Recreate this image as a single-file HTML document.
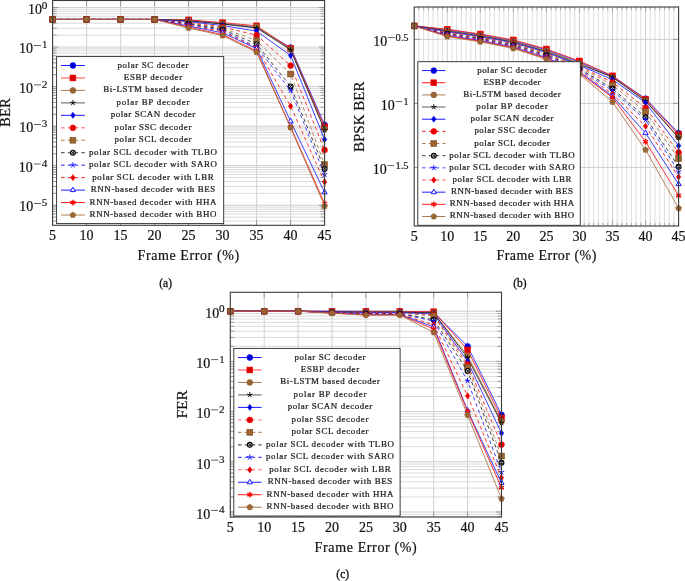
<!DOCTYPE html>
<html><head><meta charset="utf-8"><style>html,body{margin:0;padding:0;background:#fff;width:685px;height:581px;overflow:hidden}svg{display:block;will-change:transform}</style></head>
<body><svg width="685" height="581" viewBox="0 0 685 581">
<style>
text{font-family:"Liberation Serif",serif;fill:#111}
.lg{font-size:7.7px;fill:#222;stroke:#222;stroke-width:0.22px}
.tk{font-size:14px;stroke:#111;stroke-width:0.2px}
.sup{font-size:10px;stroke:#111;stroke-width:0.15px}
.al{font-size:14px;stroke:#111;stroke-width:0.2px}
.cap{font-size:11.5px;stroke:#111;stroke-width:0.3px}
</style>
<rect width="685" height="581" fill="#fff"/>
<clipPath id="cpa"><rect x="52.6" y="0.5" width="272" height="224.8"/></clipPath>
<line x1="86.6" y1="0.5" x2="86.6" y2="225.3" stroke="#cacaca" stroke-width="0.9"/>
<line x1="120.6" y1="0.5" x2="120.6" y2="225.3" stroke="#cacaca" stroke-width="0.9"/>
<line x1="154.6" y1="0.5" x2="154.6" y2="225.3" stroke="#cacaca" stroke-width="0.9"/>
<line x1="188.6" y1="0.5" x2="188.6" y2="225.3" stroke="#cacaca" stroke-width="0.9"/>
<line x1="222.6" y1="0.5" x2="222.6" y2="225.3" stroke="#cacaca" stroke-width="0.9"/>
<line x1="256.6" y1="0.5" x2="256.6" y2="225.3" stroke="#cacaca" stroke-width="0.9"/>
<line x1="290.6" y1="0.5" x2="290.6" y2="225.3" stroke="#cacaca" stroke-width="0.9"/>
<line x1="52.6" y1="220.99" x2="324.6" y2="220.99" stroke="#d6d6d6" stroke-width="0.9"/>
<line x1="52.6" y1="220.99" x2="56.6" y2="220.99" stroke="#8c8c8c" stroke-width="0.8"/>
<line x1="320.6" y1="220.99" x2="324.6" y2="220.99" stroke="#8c8c8c" stroke-width="0.8"/>
<line x1="52.6" y1="217.16" x2="324.6" y2="217.16" stroke="#d6d6d6" stroke-width="0.9"/>
<line x1="52.6" y1="217.16" x2="56.6" y2="217.16" stroke="#8c8c8c" stroke-width="0.8"/>
<line x1="320.6" y1="217.16" x2="324.6" y2="217.16" stroke="#8c8c8c" stroke-width="0.8"/>
<line x1="52.6" y1="214.02" x2="324.6" y2="214.02" stroke="#d6d6d6" stroke-width="0.9"/>
<line x1="52.6" y1="214.02" x2="56.6" y2="214.02" stroke="#8c8c8c" stroke-width="0.8"/>
<line x1="320.6" y1="214.02" x2="324.6" y2="214.02" stroke="#8c8c8c" stroke-width="0.8"/>
<line x1="52.6" y1="211.38" x2="324.6" y2="211.38" stroke="#d6d6d6" stroke-width="0.9"/>
<line x1="52.6" y1="211.38" x2="56.6" y2="211.38" stroke="#8c8c8c" stroke-width="0.8"/>
<line x1="320.6" y1="211.38" x2="324.6" y2="211.38" stroke="#8c8c8c" stroke-width="0.8"/>
<line x1="52.6" y1="209.08" x2="324.6" y2="209.08" stroke="#d6d6d6" stroke-width="0.9"/>
<line x1="52.6" y1="209.08" x2="56.6" y2="209.08" stroke="#8c8c8c" stroke-width="0.8"/>
<line x1="320.6" y1="209.08" x2="324.6" y2="209.08" stroke="#8c8c8c" stroke-width="0.8"/>
<line x1="52.6" y1="207.06" x2="324.6" y2="207.06" stroke="#d6d6d6" stroke-width="0.9"/>
<line x1="52.6" y1="207.06" x2="56.6" y2="207.06" stroke="#8c8c8c" stroke-width="0.8"/>
<line x1="320.6" y1="207.06" x2="324.6" y2="207.06" stroke="#8c8c8c" stroke-width="0.8"/>
<line x1="52.6" y1="205.25" x2="324.6" y2="205.25" stroke="#cacaca" stroke-width="0.9"/>
<line x1="52.6" y1="205.25" x2="58.2" y2="205.25" stroke="#8c8c8c" stroke-width="0.8"/>
<line x1="319" y1="205.25" x2="324.6" y2="205.25" stroke="#8c8c8c" stroke-width="0.8"/>
<line x1="52.6" y1="193.34" x2="324.6" y2="193.34" stroke="#d6d6d6" stroke-width="0.9"/>
<line x1="52.6" y1="193.34" x2="56.6" y2="193.34" stroke="#8c8c8c" stroke-width="0.8"/>
<line x1="320.6" y1="193.34" x2="324.6" y2="193.34" stroke="#8c8c8c" stroke-width="0.8"/>
<line x1="52.6" y1="186.38" x2="324.6" y2="186.38" stroke="#d6d6d6" stroke-width="0.9"/>
<line x1="52.6" y1="186.38" x2="56.6" y2="186.38" stroke="#8c8c8c" stroke-width="0.8"/>
<line x1="320.6" y1="186.38" x2="324.6" y2="186.38" stroke="#8c8c8c" stroke-width="0.8"/>
<line x1="52.6" y1="181.44" x2="324.6" y2="181.44" stroke="#d6d6d6" stroke-width="0.9"/>
<line x1="52.6" y1="181.44" x2="56.6" y2="181.44" stroke="#8c8c8c" stroke-width="0.8"/>
<line x1="320.6" y1="181.44" x2="324.6" y2="181.44" stroke="#8c8c8c" stroke-width="0.8"/>
<line x1="52.6" y1="177.61" x2="324.6" y2="177.61" stroke="#d6d6d6" stroke-width="0.9"/>
<line x1="52.6" y1="177.61" x2="56.6" y2="177.61" stroke="#8c8c8c" stroke-width="0.8"/>
<line x1="320.6" y1="177.61" x2="324.6" y2="177.61" stroke="#8c8c8c" stroke-width="0.8"/>
<line x1="52.6" y1="174.47" x2="324.6" y2="174.47" stroke="#d6d6d6" stroke-width="0.9"/>
<line x1="52.6" y1="174.47" x2="56.6" y2="174.47" stroke="#8c8c8c" stroke-width="0.8"/>
<line x1="320.6" y1="174.47" x2="324.6" y2="174.47" stroke="#8c8c8c" stroke-width="0.8"/>
<line x1="52.6" y1="171.83" x2="324.6" y2="171.83" stroke="#d6d6d6" stroke-width="0.9"/>
<line x1="52.6" y1="171.83" x2="56.6" y2="171.83" stroke="#8c8c8c" stroke-width="0.8"/>
<line x1="320.6" y1="171.83" x2="324.6" y2="171.83" stroke="#8c8c8c" stroke-width="0.8"/>
<line x1="52.6" y1="169.53" x2="324.6" y2="169.53" stroke="#d6d6d6" stroke-width="0.9"/>
<line x1="52.6" y1="169.53" x2="56.6" y2="169.53" stroke="#8c8c8c" stroke-width="0.8"/>
<line x1="320.6" y1="169.53" x2="324.6" y2="169.53" stroke="#8c8c8c" stroke-width="0.8"/>
<line x1="52.6" y1="167.51" x2="324.6" y2="167.51" stroke="#d6d6d6" stroke-width="0.9"/>
<line x1="52.6" y1="167.51" x2="56.6" y2="167.51" stroke="#8c8c8c" stroke-width="0.8"/>
<line x1="320.6" y1="167.51" x2="324.6" y2="167.51" stroke="#8c8c8c" stroke-width="0.8"/>
<line x1="52.6" y1="165.7" x2="324.6" y2="165.7" stroke="#cacaca" stroke-width="0.9"/>
<line x1="52.6" y1="165.7" x2="58.2" y2="165.7" stroke="#8c8c8c" stroke-width="0.8"/>
<line x1="319" y1="165.7" x2="324.6" y2="165.7" stroke="#8c8c8c" stroke-width="0.8"/>
<line x1="52.6" y1="153.79" x2="324.6" y2="153.79" stroke="#d6d6d6" stroke-width="0.9"/>
<line x1="52.6" y1="153.79" x2="56.6" y2="153.79" stroke="#8c8c8c" stroke-width="0.8"/>
<line x1="320.6" y1="153.79" x2="324.6" y2="153.79" stroke="#8c8c8c" stroke-width="0.8"/>
<line x1="52.6" y1="146.83" x2="324.6" y2="146.83" stroke="#d6d6d6" stroke-width="0.9"/>
<line x1="52.6" y1="146.83" x2="56.6" y2="146.83" stroke="#8c8c8c" stroke-width="0.8"/>
<line x1="320.6" y1="146.83" x2="324.6" y2="146.83" stroke="#8c8c8c" stroke-width="0.8"/>
<line x1="52.6" y1="141.89" x2="324.6" y2="141.89" stroke="#d6d6d6" stroke-width="0.9"/>
<line x1="52.6" y1="141.89" x2="56.6" y2="141.89" stroke="#8c8c8c" stroke-width="0.8"/>
<line x1="320.6" y1="141.89" x2="324.6" y2="141.89" stroke="#8c8c8c" stroke-width="0.8"/>
<line x1="52.6" y1="138.06" x2="324.6" y2="138.06" stroke="#d6d6d6" stroke-width="0.9"/>
<line x1="52.6" y1="138.06" x2="56.6" y2="138.06" stroke="#8c8c8c" stroke-width="0.8"/>
<line x1="320.6" y1="138.06" x2="324.6" y2="138.06" stroke="#8c8c8c" stroke-width="0.8"/>
<line x1="52.6" y1="134.92" x2="324.6" y2="134.92" stroke="#d6d6d6" stroke-width="0.9"/>
<line x1="52.6" y1="134.92" x2="56.6" y2="134.92" stroke="#8c8c8c" stroke-width="0.8"/>
<line x1="320.6" y1="134.92" x2="324.6" y2="134.92" stroke="#8c8c8c" stroke-width="0.8"/>
<line x1="52.6" y1="132.28" x2="324.6" y2="132.28" stroke="#d6d6d6" stroke-width="0.9"/>
<line x1="52.6" y1="132.28" x2="56.6" y2="132.28" stroke="#8c8c8c" stroke-width="0.8"/>
<line x1="320.6" y1="132.28" x2="324.6" y2="132.28" stroke="#8c8c8c" stroke-width="0.8"/>
<line x1="52.6" y1="129.98" x2="324.6" y2="129.98" stroke="#d6d6d6" stroke-width="0.9"/>
<line x1="52.6" y1="129.98" x2="56.6" y2="129.98" stroke="#8c8c8c" stroke-width="0.8"/>
<line x1="320.6" y1="129.98" x2="324.6" y2="129.98" stroke="#8c8c8c" stroke-width="0.8"/>
<line x1="52.6" y1="127.96" x2="324.6" y2="127.96" stroke="#d6d6d6" stroke-width="0.9"/>
<line x1="52.6" y1="127.96" x2="56.6" y2="127.96" stroke="#8c8c8c" stroke-width="0.8"/>
<line x1="320.6" y1="127.96" x2="324.6" y2="127.96" stroke="#8c8c8c" stroke-width="0.8"/>
<line x1="52.6" y1="126.15" x2="324.6" y2="126.15" stroke="#cacaca" stroke-width="0.9"/>
<line x1="52.6" y1="126.15" x2="58.2" y2="126.15" stroke="#8c8c8c" stroke-width="0.8"/>
<line x1="319" y1="126.15" x2="324.6" y2="126.15" stroke="#8c8c8c" stroke-width="0.8"/>
<line x1="52.6" y1="114.24" x2="324.6" y2="114.24" stroke="#d6d6d6" stroke-width="0.9"/>
<line x1="52.6" y1="114.24" x2="56.6" y2="114.24" stroke="#8c8c8c" stroke-width="0.8"/>
<line x1="320.6" y1="114.24" x2="324.6" y2="114.24" stroke="#8c8c8c" stroke-width="0.8"/>
<line x1="52.6" y1="107.28" x2="324.6" y2="107.28" stroke="#d6d6d6" stroke-width="0.9"/>
<line x1="52.6" y1="107.28" x2="56.6" y2="107.28" stroke="#8c8c8c" stroke-width="0.8"/>
<line x1="320.6" y1="107.28" x2="324.6" y2="107.28" stroke="#8c8c8c" stroke-width="0.8"/>
<line x1="52.6" y1="102.34" x2="324.6" y2="102.34" stroke="#d6d6d6" stroke-width="0.9"/>
<line x1="52.6" y1="102.34" x2="56.6" y2="102.34" stroke="#8c8c8c" stroke-width="0.8"/>
<line x1="320.6" y1="102.34" x2="324.6" y2="102.34" stroke="#8c8c8c" stroke-width="0.8"/>
<line x1="52.6" y1="98.51" x2="324.6" y2="98.51" stroke="#d6d6d6" stroke-width="0.9"/>
<line x1="52.6" y1="98.51" x2="56.6" y2="98.51" stroke="#8c8c8c" stroke-width="0.8"/>
<line x1="320.6" y1="98.51" x2="324.6" y2="98.51" stroke="#8c8c8c" stroke-width="0.8"/>
<line x1="52.6" y1="95.37" x2="324.6" y2="95.37" stroke="#d6d6d6" stroke-width="0.9"/>
<line x1="52.6" y1="95.37" x2="56.6" y2="95.37" stroke="#8c8c8c" stroke-width="0.8"/>
<line x1="320.6" y1="95.37" x2="324.6" y2="95.37" stroke="#8c8c8c" stroke-width="0.8"/>
<line x1="52.6" y1="92.73" x2="324.6" y2="92.73" stroke="#d6d6d6" stroke-width="0.9"/>
<line x1="52.6" y1="92.73" x2="56.6" y2="92.73" stroke="#8c8c8c" stroke-width="0.8"/>
<line x1="320.6" y1="92.73" x2="324.6" y2="92.73" stroke="#8c8c8c" stroke-width="0.8"/>
<line x1="52.6" y1="90.43" x2="324.6" y2="90.43" stroke="#d6d6d6" stroke-width="0.9"/>
<line x1="52.6" y1="90.43" x2="56.6" y2="90.43" stroke="#8c8c8c" stroke-width="0.8"/>
<line x1="320.6" y1="90.43" x2="324.6" y2="90.43" stroke="#8c8c8c" stroke-width="0.8"/>
<line x1="52.6" y1="88.41" x2="324.6" y2="88.41" stroke="#d6d6d6" stroke-width="0.9"/>
<line x1="52.6" y1="88.41" x2="56.6" y2="88.41" stroke="#8c8c8c" stroke-width="0.8"/>
<line x1="320.6" y1="88.41" x2="324.6" y2="88.41" stroke="#8c8c8c" stroke-width="0.8"/>
<line x1="52.6" y1="86.6" x2="324.6" y2="86.6" stroke="#cacaca" stroke-width="0.9"/>
<line x1="52.6" y1="86.6" x2="58.2" y2="86.6" stroke="#8c8c8c" stroke-width="0.8"/>
<line x1="319" y1="86.6" x2="324.6" y2="86.6" stroke="#8c8c8c" stroke-width="0.8"/>
<line x1="52.6" y1="74.69" x2="324.6" y2="74.69" stroke="#d6d6d6" stroke-width="0.9"/>
<line x1="52.6" y1="74.69" x2="56.6" y2="74.69" stroke="#8c8c8c" stroke-width="0.8"/>
<line x1="320.6" y1="74.69" x2="324.6" y2="74.69" stroke="#8c8c8c" stroke-width="0.8"/>
<line x1="52.6" y1="67.73" x2="324.6" y2="67.73" stroke="#d6d6d6" stroke-width="0.9"/>
<line x1="52.6" y1="67.73" x2="56.6" y2="67.73" stroke="#8c8c8c" stroke-width="0.8"/>
<line x1="320.6" y1="67.73" x2="324.6" y2="67.73" stroke="#8c8c8c" stroke-width="0.8"/>
<line x1="52.6" y1="62.79" x2="324.6" y2="62.79" stroke="#d6d6d6" stroke-width="0.9"/>
<line x1="52.6" y1="62.79" x2="56.6" y2="62.79" stroke="#8c8c8c" stroke-width="0.8"/>
<line x1="320.6" y1="62.79" x2="324.6" y2="62.79" stroke="#8c8c8c" stroke-width="0.8"/>
<line x1="52.6" y1="58.96" x2="324.6" y2="58.96" stroke="#d6d6d6" stroke-width="0.9"/>
<line x1="52.6" y1="58.96" x2="56.6" y2="58.96" stroke="#8c8c8c" stroke-width="0.8"/>
<line x1="320.6" y1="58.96" x2="324.6" y2="58.96" stroke="#8c8c8c" stroke-width="0.8"/>
<line x1="52.6" y1="55.82" x2="324.6" y2="55.82" stroke="#d6d6d6" stroke-width="0.9"/>
<line x1="52.6" y1="55.82" x2="56.6" y2="55.82" stroke="#8c8c8c" stroke-width="0.8"/>
<line x1="320.6" y1="55.82" x2="324.6" y2="55.82" stroke="#8c8c8c" stroke-width="0.8"/>
<line x1="52.6" y1="53.18" x2="324.6" y2="53.18" stroke="#d6d6d6" stroke-width="0.9"/>
<line x1="52.6" y1="53.18" x2="56.6" y2="53.18" stroke="#8c8c8c" stroke-width="0.8"/>
<line x1="320.6" y1="53.18" x2="324.6" y2="53.18" stroke="#8c8c8c" stroke-width="0.8"/>
<line x1="52.6" y1="50.88" x2="324.6" y2="50.88" stroke="#d6d6d6" stroke-width="0.9"/>
<line x1="52.6" y1="50.88" x2="56.6" y2="50.88" stroke="#8c8c8c" stroke-width="0.8"/>
<line x1="320.6" y1="50.88" x2="324.6" y2="50.88" stroke="#8c8c8c" stroke-width="0.8"/>
<line x1="52.6" y1="48.86" x2="324.6" y2="48.86" stroke="#d6d6d6" stroke-width="0.9"/>
<line x1="52.6" y1="48.86" x2="56.6" y2="48.86" stroke="#8c8c8c" stroke-width="0.8"/>
<line x1="320.6" y1="48.86" x2="324.6" y2="48.86" stroke="#8c8c8c" stroke-width="0.8"/>
<line x1="52.6" y1="47.05" x2="324.6" y2="47.05" stroke="#cacaca" stroke-width="0.9"/>
<line x1="52.6" y1="47.05" x2="58.2" y2="47.05" stroke="#8c8c8c" stroke-width="0.8"/>
<line x1="319" y1="47.05" x2="324.6" y2="47.05" stroke="#8c8c8c" stroke-width="0.8"/>
<line x1="52.6" y1="35.14" x2="324.6" y2="35.14" stroke="#d6d6d6" stroke-width="0.9"/>
<line x1="52.6" y1="35.14" x2="56.6" y2="35.14" stroke="#8c8c8c" stroke-width="0.8"/>
<line x1="320.6" y1="35.14" x2="324.6" y2="35.14" stroke="#8c8c8c" stroke-width="0.8"/>
<line x1="52.6" y1="28.18" x2="324.6" y2="28.18" stroke="#d6d6d6" stroke-width="0.9"/>
<line x1="52.6" y1="28.18" x2="56.6" y2="28.18" stroke="#8c8c8c" stroke-width="0.8"/>
<line x1="320.6" y1="28.18" x2="324.6" y2="28.18" stroke="#8c8c8c" stroke-width="0.8"/>
<line x1="52.6" y1="23.24" x2="324.6" y2="23.24" stroke="#d6d6d6" stroke-width="0.9"/>
<line x1="52.6" y1="23.24" x2="56.6" y2="23.24" stroke="#8c8c8c" stroke-width="0.8"/>
<line x1="320.6" y1="23.24" x2="324.6" y2="23.24" stroke="#8c8c8c" stroke-width="0.8"/>
<line x1="52.6" y1="19.41" x2="324.6" y2="19.41" stroke="#d6d6d6" stroke-width="0.9"/>
<line x1="52.6" y1="19.41" x2="56.6" y2="19.41" stroke="#8c8c8c" stroke-width="0.8"/>
<line x1="320.6" y1="19.41" x2="324.6" y2="19.41" stroke="#8c8c8c" stroke-width="0.8"/>
<line x1="52.6" y1="16.27" x2="324.6" y2="16.27" stroke="#d6d6d6" stroke-width="0.9"/>
<line x1="52.6" y1="16.27" x2="56.6" y2="16.27" stroke="#8c8c8c" stroke-width="0.8"/>
<line x1="320.6" y1="16.27" x2="324.6" y2="16.27" stroke="#8c8c8c" stroke-width="0.8"/>
<line x1="52.6" y1="13.63" x2="324.6" y2="13.63" stroke="#d6d6d6" stroke-width="0.9"/>
<line x1="52.6" y1="13.63" x2="56.6" y2="13.63" stroke="#8c8c8c" stroke-width="0.8"/>
<line x1="320.6" y1="13.63" x2="324.6" y2="13.63" stroke="#8c8c8c" stroke-width="0.8"/>
<line x1="52.6" y1="11.33" x2="324.6" y2="11.33" stroke="#d6d6d6" stroke-width="0.9"/>
<line x1="52.6" y1="11.33" x2="56.6" y2="11.33" stroke="#8c8c8c" stroke-width="0.8"/>
<line x1="320.6" y1="11.33" x2="324.6" y2="11.33" stroke="#8c8c8c" stroke-width="0.8"/>
<line x1="52.6" y1="9.31" x2="324.6" y2="9.31" stroke="#d6d6d6" stroke-width="0.9"/>
<line x1="52.6" y1="9.31" x2="56.6" y2="9.31" stroke="#8c8c8c" stroke-width="0.8"/>
<line x1="320.6" y1="9.31" x2="324.6" y2="9.31" stroke="#8c8c8c" stroke-width="0.8"/>
<line x1="52.6" y1="7.5" x2="324.6" y2="7.5" stroke="#cacaca" stroke-width="0.9"/>
<line x1="52.6" y1="7.5" x2="58.2" y2="7.5" stroke="#8c8c8c" stroke-width="0.8"/>
<line x1="319" y1="7.5" x2="324.6" y2="7.5" stroke="#8c8c8c" stroke-width="0.8"/>
<line x1="86.6" y1="225.3" x2="86.6" y2="219.7" stroke="#8c8c8c" stroke-width="0.8"/>
<line x1="86.6" y1="0.5" x2="86.6" y2="6.1" stroke="#8c8c8c" stroke-width="0.8"/>
<line x1="120.6" y1="225.3" x2="120.6" y2="219.7" stroke="#8c8c8c" stroke-width="0.8"/>
<line x1="120.6" y1="0.5" x2="120.6" y2="6.1" stroke="#8c8c8c" stroke-width="0.8"/>
<line x1="154.6" y1="225.3" x2="154.6" y2="219.7" stroke="#8c8c8c" stroke-width="0.8"/>
<line x1="154.6" y1="0.5" x2="154.6" y2="6.1" stroke="#8c8c8c" stroke-width="0.8"/>
<line x1="188.6" y1="225.3" x2="188.6" y2="219.7" stroke="#8c8c8c" stroke-width="0.8"/>
<line x1="188.6" y1="0.5" x2="188.6" y2="6.1" stroke="#8c8c8c" stroke-width="0.8"/>
<line x1="222.6" y1="225.3" x2="222.6" y2="219.7" stroke="#8c8c8c" stroke-width="0.8"/>
<line x1="222.6" y1="0.5" x2="222.6" y2="6.1" stroke="#8c8c8c" stroke-width="0.8"/>
<line x1="256.6" y1="225.3" x2="256.6" y2="219.7" stroke="#8c8c8c" stroke-width="0.8"/>
<line x1="256.6" y1="0.5" x2="256.6" y2="6.1" stroke="#8c8c8c" stroke-width="0.8"/>
<line x1="290.6" y1="225.3" x2="290.6" y2="219.7" stroke="#8c8c8c" stroke-width="0.8"/>
<line x1="290.6" y1="0.5" x2="290.6" y2="6.1" stroke="#8c8c8c" stroke-width="0.8"/>
<polyline clip-path="url(#cpa)" points="52.6,19.41 86.6,19.41 120.6,19.41 154.6,19.41 188.6,20.11 222.6,23.45 256.6,27.62 290.6,47.57 324.6,124.83" fill="none" stroke="#2020ff" stroke-width="0.85"/>
<circle cx="52.6" cy="19.41" r="2.9" fill="#0000d8" stroke="#0000ff" stroke-width="0.6"/><circle cx="86.6" cy="19.41" r="2.9" fill="#0000d8" stroke="#0000ff" stroke-width="0.6"/><circle cx="120.6" cy="19.41" r="2.9" fill="#0000d8" stroke="#0000ff" stroke-width="0.6"/><circle cx="154.6" cy="19.41" r="2.9" fill="#0000d8" stroke="#0000ff" stroke-width="0.6"/><circle cx="188.6" cy="20.11" r="2.9" fill="#0000d8" stroke="#0000ff" stroke-width="0.6"/><circle cx="222.6" cy="23.45" r="2.9" fill="#0000d8" stroke="#0000ff" stroke-width="0.6"/><circle cx="256.6" cy="27.62" r="2.9" fill="#0000d8" stroke="#0000ff" stroke-width="0.6"/><circle cx="290.6" cy="47.57" r="2.9" fill="#0000d8" stroke="#0000ff" stroke-width="0.6"/><circle cx="324.6" cy="124.83" r="2.9" fill="#0000d8" stroke="#0000ff" stroke-width="0.6"/>
<polyline clip-path="url(#cpa)" points="52.6,19.41 86.6,19.41 120.6,19.41 154.6,19.41 188.6,19.86 222.6,22.69 256.6,25.78 290.6,48.48 324.6,126.85" fill="none" stroke="#ff1010" stroke-width="0.85"/>
<rect x="49.7" y="16.51" width="5.8" height="5.8" fill="#d80000" stroke="#ff0000" stroke-width="0.6"/><rect x="83.7" y="16.51" width="5.8" height="5.8" fill="#d80000" stroke="#ff0000" stroke-width="0.6"/><rect x="117.7" y="16.51" width="5.8" height="5.8" fill="#d80000" stroke="#ff0000" stroke-width="0.6"/><rect x="151.7" y="16.51" width="5.8" height="5.8" fill="#d80000" stroke="#ff0000" stroke-width="0.6"/><rect x="185.7" y="16.96" width="5.8" height="5.8" fill="#d80000" stroke="#ff0000" stroke-width="0.6"/><rect x="219.7" y="19.79" width="5.8" height="5.8" fill="#d80000" stroke="#ff0000" stroke-width="0.6"/><rect x="253.7" y="22.88" width="5.8" height="5.8" fill="#d80000" stroke="#ff0000" stroke-width="0.6"/><rect x="287.7" y="45.58" width="5.8" height="5.8" fill="#d80000" stroke="#ff0000" stroke-width="0.6"/><rect x="321.7" y="123.95" width="5.8" height="5.8" fill="#d80000" stroke="#ff0000" stroke-width="0.6"/>
<polyline clip-path="url(#cpa)" points="52.6,19.41 86.6,19.41 120.6,19.41 154.6,19.41 188.6,20.47 222.6,23.67 256.6,26.54 290.6,49.25 324.6,128.94" fill="none" stroke="#a87040" stroke-width="0.85"/>
<circle cx="52.6" cy="19.41" r="2.9" fill="#9a6633" stroke="#8a5a2a" stroke-width="0.6"/><circle cx="86.6" cy="19.41" r="2.9" fill="#9a6633" stroke="#8a5a2a" stroke-width="0.6"/><circle cx="120.6" cy="19.41" r="2.9" fill="#9a6633" stroke="#8a5a2a" stroke-width="0.6"/><circle cx="154.6" cy="19.41" r="2.9" fill="#9a6633" stroke="#8a5a2a" stroke-width="0.6"/><circle cx="188.6" cy="20.47" r="2.9" fill="#9a6633" stroke="#8a5a2a" stroke-width="0.6"/><circle cx="222.6" cy="23.67" r="2.9" fill="#9a6633" stroke="#8a5a2a" stroke-width="0.6"/><circle cx="256.6" cy="26.54" r="2.9" fill="#9a6633" stroke="#8a5a2a" stroke-width="0.6"/><circle cx="290.6" cy="49.25" r="2.9" fill="#9a6633" stroke="#8a5a2a" stroke-width="0.6"/><circle cx="324.6" cy="128.94" r="2.9" fill="#9a6633" stroke="#8a5a2a" stroke-width="0.6"/>
<polyline clip-path="url(#cpa)" points="52.6,19.41 86.6,19.41 120.6,19.41 154.6,19.41 188.6,20.84 222.6,24.12 256.6,27.9 290.6,49.84 324.6,129.98" fill="none" stroke="#202020" stroke-width="0.85"/>
<path d="M52.6 19.41L52.6 16.51M52.6 19.41L49.84 18.51M52.6 19.41L50.9 21.75M52.6 19.41L54.3 21.75M52.6 19.41L55.36 18.51" stroke="#000" stroke-width="0.9" fill="none"/><path d="M86.6 19.41L86.6 16.51M86.6 19.41L83.84 18.51M86.6 19.41L84.9 21.75M86.6 19.41L88.3 21.75M86.6 19.41L89.36 18.51" stroke="#000" stroke-width="0.9" fill="none"/><path d="M120.6 19.41L120.6 16.51M120.6 19.41L117.84 18.51M120.6 19.41L118.9 21.75M120.6 19.41L122.3 21.75M120.6 19.41L123.36 18.51" stroke="#000" stroke-width="0.9" fill="none"/><path d="M154.6 19.41L154.6 16.51M154.6 19.41L151.84 18.51M154.6 19.41L152.9 21.75M154.6 19.41L156.3 21.75M154.6 19.41L157.36 18.51" stroke="#000" stroke-width="0.9" fill="none"/><path d="M188.6 20.84L188.6 17.94M188.6 20.84L185.84 19.94M188.6 20.84L186.9 23.18M188.6 20.84L190.3 23.18M188.6 20.84L191.36 19.94" stroke="#000" stroke-width="0.9" fill="none"/><path d="M222.6 24.12L222.6 21.22M222.6 24.12L219.84 23.22M222.6 24.12L220.9 26.47M222.6 24.12L224.3 26.47M222.6 24.12L225.36 23.22" stroke="#000" stroke-width="0.9" fill="none"/><path d="M256.6 27.9L256.6 25M256.6 27.9L253.84 27M256.6 27.9L254.9 30.24M256.6 27.9L258.3 30.24M256.6 27.9L259.36 27" stroke="#000" stroke-width="0.9" fill="none"/><path d="M290.6 49.84L290.6 46.94M290.6 49.84L287.84 48.95M290.6 49.84L288.9 52.19M290.6 49.84L292.3 52.19M290.6 49.84L293.36 48.95" stroke="#000" stroke-width="0.9" fill="none"/><path d="M324.6 129.98L324.6 127.08M324.6 129.98L321.84 129.09M324.6 129.98L322.9 132.33M324.6 129.98L326.3 132.33M324.6 129.98L327.36 129.09" stroke="#000" stroke-width="0.9" fill="none"/>
<polyline clip-path="url(#cpa)" points="52.6,19.41 86.6,19.41 120.6,19.41 154.6,19.41 188.6,21.6 222.6,25.53 256.6,31.11 290.6,55.4 324.6,139.49" fill="none" stroke="#2020ff" stroke-width="0.85"/>
<path d="M52.6 16.31L54.9 19.41L52.6 22.51L50.3 19.41Z" fill="#0000d8" stroke="#0000ff" stroke-width="0.5"/><path d="M86.6 16.31L88.9 19.41L86.6 22.51L84.3 19.41Z" fill="#0000d8" stroke="#0000ff" stroke-width="0.5"/><path d="M120.6 16.31L122.9 19.41L120.6 22.51L118.3 19.41Z" fill="#0000d8" stroke="#0000ff" stroke-width="0.5"/><path d="M154.6 16.31L156.9 19.41L154.6 22.51L152.3 19.41Z" fill="#0000d8" stroke="#0000ff" stroke-width="0.5"/><path d="M188.6 18.5L190.9 21.6L188.6 24.7L186.3 21.6Z" fill="#0000d8" stroke="#0000ff" stroke-width="0.5"/><path d="M222.6 22.43L224.9 25.53L222.6 28.63L220.3 25.53Z" fill="#0000d8" stroke="#0000ff" stroke-width="0.5"/><path d="M256.6 28.01L258.9 31.11L256.6 34.21L254.3 31.11Z" fill="#0000d8" stroke="#0000ff" stroke-width="0.5"/><path d="M290.6 52.3L292.9 55.4L290.6 58.5L288.3 55.4Z" fill="#0000d8" stroke="#0000ff" stroke-width="0.5"/><path d="M324.6 136.39L326.9 139.49L324.6 142.59L322.3 139.49Z" fill="#0000d8" stroke="#0000ff" stroke-width="0.5"/>
<polyline clip-path="url(#cpa)" points="52.6,19.41 86.6,19.41 120.6,19.41 154.6,19.41 188.6,22.4 222.6,27.07 256.6,35.14 290.6,65.58 324.6,149.96" fill="none" stroke="#ff1010" stroke-width="0.85" stroke-dasharray="3.5 3.1"/>
<circle cx="52.6" cy="19.41" r="2.9" fill="#e00000" stroke="#ff0000" stroke-width="0.6"/><circle cx="86.6" cy="19.41" r="2.9" fill="#e00000" stroke="#ff0000" stroke-width="0.6"/><circle cx="120.6" cy="19.41" r="2.9" fill="#e00000" stroke="#ff0000" stroke-width="0.6"/><circle cx="154.6" cy="19.41" r="2.9" fill="#e00000" stroke="#ff0000" stroke-width="0.6"/><circle cx="188.6" cy="22.4" r="2.9" fill="#e00000" stroke="#ff0000" stroke-width="0.6"/><circle cx="222.6" cy="27.07" r="2.9" fill="#e00000" stroke="#ff0000" stroke-width="0.6"/><circle cx="256.6" cy="35.14" r="2.9" fill="#e00000" stroke="#ff0000" stroke-width="0.6"/><circle cx="290.6" cy="65.58" r="2.9" fill="#e00000" stroke="#ff0000" stroke-width="0.6"/><circle cx="324.6" cy="149.96" r="2.9" fill="#e00000" stroke="#ff0000" stroke-width="0.6"/>
<polyline clip-path="url(#cpa)" points="52.6,19.41 86.6,19.41 120.6,19.41 154.6,19.41 188.6,23.03 222.6,28.18 256.6,40.55 290.6,74.02 324.6,164.54" fill="none" stroke="#a87040" stroke-width="0.85" stroke-dasharray="3.5 3.1"/>
<rect x="49.7" y="16.51" width="5.8" height="5.8" fill="#9a6633" stroke="#7a4a1a" stroke-width="0.6"/><rect x="83.7" y="16.51" width="5.8" height="5.8" fill="#9a6633" stroke="#7a4a1a" stroke-width="0.6"/><rect x="117.7" y="16.51" width="5.8" height="5.8" fill="#9a6633" stroke="#7a4a1a" stroke-width="0.6"/><rect x="151.7" y="16.51" width="5.8" height="5.8" fill="#9a6633" stroke="#7a4a1a" stroke-width="0.6"/><rect x="185.7" y="20.13" width="5.8" height="5.8" fill="#9a6633" stroke="#7a4a1a" stroke-width="0.6"/><rect x="219.7" y="25.28" width="5.8" height="5.8" fill="#9a6633" stroke="#7a4a1a" stroke-width="0.6"/><rect x="253.7" y="37.65" width="5.8" height="5.8" fill="#9a6633" stroke="#7a4a1a" stroke-width="0.6"/><rect x="287.7" y="71.12" width="5.8" height="5.8" fill="#9a6633" stroke="#7a4a1a" stroke-width="0.6"/><rect x="321.7" y="161.64" width="5.8" height="5.8" fill="#9a6633" stroke="#7a4a1a" stroke-width="0.6"/>
<polyline clip-path="url(#cpa)" points="52.6,19.41 86.6,19.41 120.6,19.41 154.6,19.41 188.6,23.67 222.6,29.36 256.6,44.21 290.6,86.43 324.6,168.9" fill="none" stroke="#202020" stroke-width="0.85" stroke-dasharray="3.5 3.1"/>
<circle cx="52.6" cy="19.41" r="2.4" fill="#c8c8c8" stroke="#000" stroke-width="1.1"/><path d="M50.8 17.61L54.4 21.2M50.8 21.2L54.4 17.61" stroke="#000" stroke-width="0.9"/><circle cx="86.6" cy="19.41" r="2.4" fill="#c8c8c8" stroke="#000" stroke-width="1.1"/><path d="M84.8 17.61L88.4 21.2M84.8 21.2L88.4 17.61" stroke="#000" stroke-width="0.9"/><circle cx="120.6" cy="19.41" r="2.4" fill="#c8c8c8" stroke="#000" stroke-width="1.1"/><path d="M118.8 17.61L122.4 21.2M118.8 21.2L122.4 17.61" stroke="#000" stroke-width="0.9"/><circle cx="154.6" cy="19.41" r="2.4" fill="#c8c8c8" stroke="#000" stroke-width="1.1"/><path d="M152.8 17.61L156.4 21.2M152.8 21.2L156.4 17.61" stroke="#000" stroke-width="0.9"/><circle cx="188.6" cy="23.67" r="2.4" fill="#c8c8c8" stroke="#000" stroke-width="1.1"/><path d="M186.8 21.88L190.4 25.47M186.8 25.47L190.4 21.88" stroke="#000" stroke-width="0.9"/><circle cx="222.6" cy="29.36" r="2.4" fill="#c8c8c8" stroke="#000" stroke-width="1.1"/><path d="M220.8 27.57L224.4 31.16M220.8 31.16L224.4 27.57" stroke="#000" stroke-width="0.9"/><circle cx="256.6" cy="44.21" r="2.4" fill="#c8c8c8" stroke="#000" stroke-width="1.1"/><path d="M254.8 42.41L258.4 46.01M254.8 46.01L258.4 42.41" stroke="#000" stroke-width="0.9"/><circle cx="290.6" cy="86.43" r="2.4" fill="#c8c8c8" stroke="#000" stroke-width="1.1"/><path d="M288.8 84.63L292.4 88.23M288.8 88.23L292.4 84.63" stroke="#000" stroke-width="0.9"/><circle cx="324.6" cy="168.9" r="2.4" fill="#c8c8c8" stroke="#000" stroke-width="1.1"/><path d="M322.8 167.1L326.4 170.7M322.8 170.7L326.4 167.1" stroke="#000" stroke-width="0.9"/>
<polyline clip-path="url(#cpa)" points="52.6,19.41 86.6,19.41 120.6,19.41 154.6,19.41 188.6,24.35 222.6,30.51 256.6,47.05 290.6,90.43 324.6,174.47" fill="none" stroke="#2020ff" stroke-width="0.85" stroke-dasharray="3.5 3.1"/>
<path d="M52.6 19.41L52.6 16.51M52.6 19.41L49.84 18.51M52.6 19.41L50.9 21.75M52.6 19.41L54.3 21.75M52.6 19.41L55.36 18.51" stroke="#0000ff" stroke-width="0.9" fill="none"/><path d="M86.6 19.41L86.6 16.51M86.6 19.41L83.84 18.51M86.6 19.41L84.9 21.75M86.6 19.41L88.3 21.75M86.6 19.41L89.36 18.51" stroke="#0000ff" stroke-width="0.9" fill="none"/><path d="M120.6 19.41L120.6 16.51M120.6 19.41L117.84 18.51M120.6 19.41L118.9 21.75M120.6 19.41L122.3 21.75M120.6 19.41L123.36 18.51" stroke="#0000ff" stroke-width="0.9" fill="none"/><path d="M154.6 19.41L154.6 16.51M154.6 19.41L151.84 18.51M154.6 19.41L152.9 21.75M154.6 19.41L156.3 21.75M154.6 19.41L157.36 18.51" stroke="#0000ff" stroke-width="0.9" fill="none"/><path d="M188.6 24.35L188.6 21.45M188.6 24.35L185.84 23.45M188.6 24.35L186.9 26.69M188.6 24.35L190.3 26.69M188.6 24.35L191.36 23.45" stroke="#0000ff" stroke-width="0.9" fill="none"/><path d="M222.6 30.51L222.6 27.61M222.6 30.51L219.84 29.61M222.6 30.51L220.9 32.85M222.6 30.51L224.3 32.85M222.6 30.51L225.36 29.61" stroke="#0000ff" stroke-width="0.9" fill="none"/><path d="M256.6 47.05L256.6 44.15M256.6 47.05L253.84 46.15M256.6 47.05L254.9 49.4M256.6 47.05L258.3 49.4M256.6 47.05L259.36 46.15" stroke="#0000ff" stroke-width="0.9" fill="none"/><path d="M290.6 90.43L290.6 87.53M290.6 90.43L287.84 89.54M290.6 90.43L288.9 92.78M290.6 90.43L292.3 92.78M290.6 90.43L293.36 89.54" stroke="#0000ff" stroke-width="0.9" fill="none"/><path d="M324.6 174.47L324.6 171.57M324.6 174.47L321.84 173.58M324.6 174.47L322.9 176.82M324.6 174.47L326.3 176.82M324.6 174.47L327.36 173.58" stroke="#0000ff" stroke-width="0.9" fill="none"/>
<polyline clip-path="url(#cpa)" points="52.6,19.41 86.6,19.41 120.6,19.41 154.6,19.41 188.6,25.05 222.6,31.66 256.6,47.93 290.6,106.17 324.6,182.1" fill="none" stroke="#ff1010" stroke-width="0.85" stroke-dasharray="3.5 3.1"/>
<path d="M52.6 16.31L54.9 19.41L52.6 22.51L50.3 19.41Z" fill="#e00000" stroke="#ff0000" stroke-width="0.5"/><path d="M86.6 16.31L88.9 19.41L86.6 22.51L84.3 19.41Z" fill="#e00000" stroke="#ff0000" stroke-width="0.5"/><path d="M120.6 16.31L122.9 19.41L120.6 22.51L118.3 19.41Z" fill="#e00000" stroke="#ff0000" stroke-width="0.5"/><path d="M154.6 16.31L156.9 19.41L154.6 22.51L152.3 19.41Z" fill="#e00000" stroke="#ff0000" stroke-width="0.5"/><path d="M188.6 21.95L190.9 25.05L188.6 28.15L186.3 25.05Z" fill="#e00000" stroke="#ff0000" stroke-width="0.5"/><path d="M222.6 28.56L224.9 31.66L222.6 34.76L220.3 31.66Z" fill="#e00000" stroke="#ff0000" stroke-width="0.5"/><path d="M256.6 44.83L258.9 47.93L256.6 51.03L254.3 47.93Z" fill="#e00000" stroke="#ff0000" stroke-width="0.5"/><path d="M290.6 103.07L292.9 106.17L290.6 109.27L288.3 106.17Z" fill="#e00000" stroke="#ff0000" stroke-width="0.5"/><path d="M324.6 179L326.9 182.1L324.6 185.2L322.3 182.1Z" fill="#e00000" stroke="#ff0000" stroke-width="0.5"/>
<polyline clip-path="url(#cpa)" points="52.6,19.41 86.6,19.41 120.6,19.41 154.6,19.41 188.6,26.03 222.6,32.89 256.6,48.67 290.6,121.25 324.6,192.42" fill="none" stroke="#2020ff" stroke-width="0.85"/>
<path d="M52.6 16.41L55.2 20.91L50 20.91Z" fill="#fff" stroke="#0000ff" stroke-width="0.9"/><path d="M86.6 16.41L89.2 20.91L84 20.91Z" fill="#fff" stroke="#0000ff" stroke-width="0.9"/><path d="M120.6 16.41L123.2 20.91L118 20.91Z" fill="#fff" stroke="#0000ff" stroke-width="0.9"/><path d="M154.6 16.41L157.2 20.91L152 20.91Z" fill="#fff" stroke="#0000ff" stroke-width="0.9"/><path d="M188.6 23.03L191.2 27.53L186 27.53Z" fill="#fff" stroke="#0000ff" stroke-width="0.9"/><path d="M222.6 29.89L225.2 34.39L220 34.39Z" fill="#fff" stroke="#0000ff" stroke-width="0.9"/><path d="M256.6 45.67L259.2 50.17L254 50.17Z" fill="#fff" stroke="#0000ff" stroke-width="0.9"/><path d="M290.6 118.25L293.2 122.75L288 122.75Z" fill="#fff" stroke="#0000ff" stroke-width="0.9"/><path d="M324.6 189.42L327.2 193.92L322 193.92Z" fill="#fff" stroke="#0000ff" stroke-width="0.9"/>
<polyline clip-path="url(#cpa)" points="52.6,19.41 86.6,19.41 120.6,19.41 154.6,19.41 188.6,27.18 222.6,34.72 256.6,51.1 290.6,127.03 324.6,203.46" fill="none" stroke="#ff1010" stroke-width="0.85"/>
<path d="M52.6 22.31L52.6 16.51M55.11 20.86L50.09 17.96M55.11 17.96L50.09 20.86" stroke="#ff0000" stroke-width="1.3" fill="none"/><path d="M86.6 22.31L86.6 16.51M89.11 20.86L84.09 17.96M89.11 17.96L84.09 20.86" stroke="#ff0000" stroke-width="1.3" fill="none"/><path d="M120.6 22.31L120.6 16.51M123.11 20.86L118.09 17.96M123.11 17.96L118.09 20.86" stroke="#ff0000" stroke-width="1.3" fill="none"/><path d="M154.6 22.31L154.6 16.51M157.11 20.86L152.09 17.96M157.11 17.96L152.09 20.86" stroke="#ff0000" stroke-width="1.3" fill="none"/><path d="M188.6 30.08L188.6 24.28M191.11 28.63L186.09 25.73M191.11 25.73L186.09 28.63" stroke="#ff0000" stroke-width="1.3" fill="none"/><path d="M222.6 37.62L222.6 31.82M225.11 36.17L220.09 33.27M225.11 33.27L220.09 36.17" stroke="#ff0000" stroke-width="1.3" fill="none"/><path d="M256.6 54L256.6 48.2M259.11 52.55L254.09 49.65M259.11 49.65L254.09 52.55" stroke="#ff0000" stroke-width="1.3" fill="none"/><path d="M290.6 129.93L290.6 124.13M293.11 128.48L288.09 125.58M293.11 125.58L288.09 128.48" stroke="#ff0000" stroke-width="1.3" fill="none"/><path d="M324.6 206.36L324.6 200.56M327.11 204.91L322.09 202.01M327.11 202.01L322.09 204.91" stroke="#ff0000" stroke-width="1.3" fill="none"/>
<polyline clip-path="url(#cpa)" points="52.6,19.41 86.6,19.41 120.6,19.41 154.6,19.41 188.6,28.01 222.6,35.58 256.6,52.22 290.6,127.58 324.6,206.13" fill="none" stroke="#a87040" stroke-width="0.85"/>
<path d="M52.6 16.31L49.65 18.45L50.78 21.91L54.42 21.91L55.55 18.45Z" fill="#9a6633" stroke="#8a5a2a" stroke-width="0.5"/><path d="M86.6 16.31L83.65 18.45L84.78 21.91L88.42 21.91L89.55 18.45Z" fill="#9a6633" stroke="#8a5a2a" stroke-width="0.5"/><path d="M120.6 16.31L117.65 18.45L118.78 21.91L122.42 21.91L123.55 18.45Z" fill="#9a6633" stroke="#8a5a2a" stroke-width="0.5"/><path d="M154.6 16.31L151.65 18.45L152.78 21.91L156.42 21.91L157.55 18.45Z" fill="#9a6633" stroke="#8a5a2a" stroke-width="0.5"/><path d="M188.6 24.91L185.65 27.05L186.78 30.52L190.42 30.52L191.55 27.05Z" fill="#9a6633" stroke="#8a5a2a" stroke-width="0.5"/><path d="M222.6 32.48L219.65 34.62L220.78 38.09L224.42 38.09L225.55 34.62Z" fill="#9a6633" stroke="#8a5a2a" stroke-width="0.5"/><path d="M256.6 49.12L253.65 51.26L254.78 54.73L258.42 54.73L259.55 51.26Z" fill="#9a6633" stroke="#8a5a2a" stroke-width="0.5"/><path d="M290.6 124.48L287.65 126.62L288.78 130.09L292.42 130.09L293.55 126.62Z" fill="#9a6633" stroke="#8a5a2a" stroke-width="0.5"/><path d="M324.6 203.03L321.65 205.17L322.78 208.64L326.42 208.64L327.55 205.17Z" fill="#9a6633" stroke="#8a5a2a" stroke-width="0.5"/>
<rect x="52.6" y="0.5" width="272" height="224.8" fill="none" stroke="#3a3a3a" stroke-width="1.1"/>
<rect x="56.6" y="56.6" width="167.1" height="167" fill="#fff" stroke="#2a2a2a" stroke-width="0.9"/>
<line x1="61" y1="65.5" x2="84.9" y2="65.5" stroke="#0000ff" stroke-width="0.9"/>
<circle cx="72.9" cy="65.5" r="2.9" fill="#0000d8" stroke="#0000ff" stroke-width="0.6"/>
<text transform="translate(153,67.5) scale(1.16,1)" text-anchor="middle" textLength="61.29" lengthAdjust="spacing" class="lg">polar SC decoder</text>
<line x1="61" y1="77.96" x2="84.9" y2="77.96" stroke="#ff8c8c" stroke-width="1.6"/>
<rect x="70" y="75.06" width="5.8" height="5.8" fill="#d80000" stroke="#ff0000" stroke-width="0.6"/>
<text transform="translate(153,79.96) scale(1.16,1)" text-anchor="middle" textLength="50.34" lengthAdjust="spacing" class="lg">ESBP decoder</text>
<line x1="61" y1="90.42" x2="84.9" y2="90.42" stroke="#a06838" stroke-width="0.9"/>
<circle cx="72.9" cy="90.42" r="2.9" fill="#9a6633" stroke="#8a5a2a" stroke-width="0.6"/>
<text transform="translate(153,92.42) scale(1.16,1)" text-anchor="middle" textLength="85.69" lengthAdjust="spacing" class="lg">Bi-LSTM based decoder</text>
<line x1="61" y1="102.88" x2="84.9" y2="102.88" stroke="#8a8a8a" stroke-width="1.4"/>
<path d="M72.9 102.88L72.9 99.98M72.9 102.88L70.14 101.98M72.9 102.88L71.2 105.23M72.9 102.88L74.6 105.23M72.9 102.88L75.66 101.98" stroke="#000" stroke-width="0.9" fill="none"/>
<text transform="translate(153,104.88) scale(1.16,1)" text-anchor="middle" textLength="62.84" lengthAdjust="spacing" class="lg">polar BP decoder</text>
<line x1="61" y1="115.34" x2="84.9" y2="115.34" stroke="#0000ff" stroke-width="0.9"/>
<path d="M72.9 112.24L75.2 115.34L72.9 118.44L70.6 115.34Z" fill="#0000d8" stroke="#0000ff" stroke-width="0.5"/>
<text transform="translate(153,117.34) scale(1.16,1)" text-anchor="middle" textLength="73.02" lengthAdjust="spacing" class="lg">polar SCAN decoder</text>
<line x1="61" y1="127.8" x2="84.9" y2="127.8" stroke="#ff8c8c" stroke-width="1.4" stroke-dasharray="3.6 3.2"/>
<circle cx="72.9" cy="127.8" r="2.9" fill="#e00000" stroke="#ff0000" stroke-width="0.6"/>
<text transform="translate(153,129.8) scale(1.16,1)" text-anchor="middle" textLength="66.21" lengthAdjust="spacing" class="lg">polar SSC decoder</text>
<line x1="61" y1="140.26" x2="84.9" y2="140.26" stroke="#a06838" stroke-width="0.9" stroke-dasharray="3.6 3.2"/>
<rect x="70" y="137.36" width="5.8" height="5.8" fill="#9a6633" stroke="#7a4a1a" stroke-width="0.6"/>
<text transform="translate(153,142.26) scale(1.16,1)" text-anchor="middle" textLength="66.47" lengthAdjust="spacing" class="lg">polar SCL decoder</text>
<line x1="61" y1="152.72" x2="84.9" y2="152.72" stroke="#3a3a3a" stroke-width="1.0" stroke-dasharray="3.6 3.2"/>
<circle cx="72.9" cy="152.72" r="2.4" fill="#c8c8c8" stroke="#000" stroke-width="1.1"/><path d="M71.1 150.92L74.7 154.52M71.1 154.52L74.7 150.92" stroke="#000" stroke-width="0.9"/>
<text transform="translate(153,154.72) scale(1.16,1)" text-anchor="middle" textLength="110.43" lengthAdjust="spacing" class="lg">polar SCL decoder with TLBO</text>
<line x1="61" y1="165.18" x2="84.9" y2="165.18" stroke="#0000ff" stroke-width="0.9" stroke-dasharray="3.6 3.2"/>
<path d="M72.9 165.18L72.9 162.28M72.9 165.18L70.14 164.28M72.9 165.18L71.2 167.53M72.9 165.18L74.6 167.53M72.9 165.18L75.66 164.28" stroke="#0000ff" stroke-width="0.9" fill="none"/>
<text transform="translate(153,167.18) scale(1.16,1)" text-anchor="middle" textLength="110.43" lengthAdjust="spacing" class="lg">polar SCL decoder with SARO</text>
<line x1="61" y1="177.64" x2="84.9" y2="177.64" stroke="#ff0000" stroke-width="0.9" stroke-dasharray="3.6 3.2"/>
<path d="M72.9 174.54L75.2 177.64L72.9 180.74L70.6 177.64Z" fill="#e00000" stroke="#ff0000" stroke-width="0.5"/>
<text transform="translate(153,179.64) scale(1.16,1)" text-anchor="middle" textLength="104.83" lengthAdjust="spacing" class="lg">polar SCL decoder with LBR</text>
<line x1="61" y1="190.1" x2="84.9" y2="190.1" stroke="#0000ff" stroke-width="0.9"/>
<path d="M72.9 187.1L75.5 191.6L70.3 191.6Z" fill="#fff" stroke="#0000ff" stroke-width="0.9"/>
<text transform="translate(153,192.1) scale(1.16,1)" text-anchor="middle" textLength="107.33" lengthAdjust="spacing" class="lg">RNN-based decoder with BES</text>
<line x1="61" y1="202.56" x2="84.9" y2="202.56" stroke="#ff0000" stroke-width="0.9"/>
<path d="M72.9 205.46L72.9 199.66M75.41 204.01L70.39 201.11M75.41 201.11L70.39 204.01" stroke="#ff0000" stroke-width="1.3" fill="none"/>
<text transform="translate(153,204.56) scale(1.16,1)" text-anchor="middle" textLength="109.31" lengthAdjust="spacing" class="lg">RNN-based decoder with HHA</text>
<line x1="61" y1="215.02" x2="84.9" y2="215.02" stroke="#c4a484" stroke-width="1.4"/>
<path d="M72.9 211.92L69.95 214.06L71.08 217.53L74.72 217.53L75.85 214.06Z" fill="#9a6633" stroke="#8a5a2a" stroke-width="0.5"/>
<text transform="translate(153,217.02) scale(1.16,1)" text-anchor="middle" textLength="109.31" lengthAdjust="spacing" class="lg">RNN-based decoder with BHO</text>
<clipPath id="cpb"><rect x="414.2" y="7" width="264.4" height="219"/></clipPath>
<line x1="418.92" y1="7" x2="418.92" y2="226" stroke="#d6d6d6" stroke-width="0.8"/>
<line x1="423.64" y1="7" x2="423.64" y2="226" stroke="#d6d6d6" stroke-width="0.8"/>
<line x1="428.36" y1="7" x2="428.36" y2="226" stroke="#d6d6d6" stroke-width="0.8"/>
<line x1="433.09" y1="7" x2="433.09" y2="226" stroke="#d6d6d6" stroke-width="0.8"/>
<line x1="437.81" y1="7" x2="437.81" y2="226" stroke="#d6d6d6" stroke-width="0.8"/>
<line x1="442.53" y1="7" x2="442.53" y2="226" stroke="#d6d6d6" stroke-width="0.8"/>
<line x1="451.97" y1="7" x2="451.97" y2="226" stroke="#d6d6d6" stroke-width="0.8"/>
<line x1="456.69" y1="7" x2="456.69" y2="226" stroke="#d6d6d6" stroke-width="0.8"/>
<line x1="461.41" y1="7" x2="461.41" y2="226" stroke="#d6d6d6" stroke-width="0.8"/>
<line x1="466.14" y1="7" x2="466.14" y2="226" stroke="#d6d6d6" stroke-width="0.8"/>
<line x1="470.86" y1="7" x2="470.86" y2="226" stroke="#d6d6d6" stroke-width="0.8"/>
<line x1="475.58" y1="7" x2="475.58" y2="226" stroke="#d6d6d6" stroke-width="0.8"/>
<line x1="485.02" y1="7" x2="485.02" y2="226" stroke="#d6d6d6" stroke-width="0.8"/>
<line x1="489.74" y1="7" x2="489.74" y2="226" stroke="#d6d6d6" stroke-width="0.8"/>
<line x1="494.46" y1="7" x2="494.46" y2="226" stroke="#d6d6d6" stroke-width="0.8"/>
<line x1="499.19" y1="7" x2="499.19" y2="226" stroke="#d6d6d6" stroke-width="0.8"/>
<line x1="503.91" y1="7" x2="503.91" y2="226" stroke="#d6d6d6" stroke-width="0.8"/>
<line x1="508.63" y1="7" x2="508.63" y2="226" stroke="#d6d6d6" stroke-width="0.8"/>
<line x1="518.07" y1="7" x2="518.07" y2="226" stroke="#d6d6d6" stroke-width="0.8"/>
<line x1="522.79" y1="7" x2="522.79" y2="226" stroke="#d6d6d6" stroke-width="0.8"/>
<line x1="527.51" y1="7" x2="527.51" y2="226" stroke="#d6d6d6" stroke-width="0.8"/>
<line x1="532.24" y1="7" x2="532.24" y2="226" stroke="#d6d6d6" stroke-width="0.8"/>
<line x1="536.96" y1="7" x2="536.96" y2="226" stroke="#d6d6d6" stroke-width="0.8"/>
<line x1="541.68" y1="7" x2="541.68" y2="226" stroke="#d6d6d6" stroke-width="0.8"/>
<line x1="551.12" y1="7" x2="551.12" y2="226" stroke="#d6d6d6" stroke-width="0.8"/>
<line x1="555.84" y1="7" x2="555.84" y2="226" stroke="#d6d6d6" stroke-width="0.8"/>
<line x1="560.56" y1="7" x2="560.56" y2="226" stroke="#d6d6d6" stroke-width="0.8"/>
<line x1="565.29" y1="7" x2="565.29" y2="226" stroke="#d6d6d6" stroke-width="0.8"/>
<line x1="570.01" y1="7" x2="570.01" y2="226" stroke="#d6d6d6" stroke-width="0.8"/>
<line x1="574.73" y1="7" x2="574.73" y2="226" stroke="#d6d6d6" stroke-width="0.8"/>
<line x1="584.17" y1="7" x2="584.17" y2="226" stroke="#d6d6d6" stroke-width="0.8"/>
<line x1="588.89" y1="7" x2="588.89" y2="226" stroke="#d6d6d6" stroke-width="0.8"/>
<line x1="593.61" y1="7" x2="593.61" y2="226" stroke="#d6d6d6" stroke-width="0.8"/>
<line x1="598.34" y1="7" x2="598.34" y2="226" stroke="#d6d6d6" stroke-width="0.8"/>
<line x1="603.06" y1="7" x2="603.06" y2="226" stroke="#d6d6d6" stroke-width="0.8"/>
<line x1="607.78" y1="7" x2="607.78" y2="226" stroke="#d6d6d6" stroke-width="0.8"/>
<line x1="617.22" y1="7" x2="617.22" y2="226" stroke="#d6d6d6" stroke-width="0.8"/>
<line x1="621.94" y1="7" x2="621.94" y2="226" stroke="#d6d6d6" stroke-width="0.8"/>
<line x1="626.66" y1="7" x2="626.66" y2="226" stroke="#d6d6d6" stroke-width="0.8"/>
<line x1="631.39" y1="7" x2="631.39" y2="226" stroke="#d6d6d6" stroke-width="0.8"/>
<line x1="636.11" y1="7" x2="636.11" y2="226" stroke="#d6d6d6" stroke-width="0.8"/>
<line x1="640.83" y1="7" x2="640.83" y2="226" stroke="#d6d6d6" stroke-width="0.8"/>
<line x1="650.27" y1="7" x2="650.27" y2="226" stroke="#d6d6d6" stroke-width="0.8"/>
<line x1="654.99" y1="7" x2="654.99" y2="226" stroke="#d6d6d6" stroke-width="0.8"/>
<line x1="659.71" y1="7" x2="659.71" y2="226" stroke="#d6d6d6" stroke-width="0.8"/>
<line x1="664.44" y1="7" x2="664.44" y2="226" stroke="#d6d6d6" stroke-width="0.8"/>
<line x1="669.16" y1="7" x2="669.16" y2="226" stroke="#d6d6d6" stroke-width="0.8"/>
<line x1="673.88" y1="7" x2="673.88" y2="226" stroke="#d6d6d6" stroke-width="0.8"/>
<line x1="447.25" y1="7" x2="447.25" y2="226" stroke="#cacaca" stroke-width="0.9"/>
<line x1="480.3" y1="7" x2="480.3" y2="226" stroke="#cacaca" stroke-width="0.9"/>
<line x1="513.35" y1="7" x2="513.35" y2="226" stroke="#cacaca" stroke-width="0.9"/>
<line x1="546.4" y1="7" x2="546.4" y2="226" stroke="#cacaca" stroke-width="0.9"/>
<line x1="579.45" y1="7" x2="579.45" y2="226" stroke="#cacaca" stroke-width="0.9"/>
<line x1="612.5" y1="7" x2="612.5" y2="226" stroke="#cacaca" stroke-width="0.9"/>
<line x1="645.55" y1="7" x2="645.55" y2="226" stroke="#cacaca" stroke-width="0.9"/>
<line x1="414.2" y1="39.4" x2="678.6" y2="39.4" stroke="#cacaca" stroke-width="0.9"/>
<line x1="414.2" y1="39.4" x2="419.6" y2="39.4" stroke="#8c8c8c" stroke-width="0.8"/>
<line x1="673.2" y1="39.4" x2="678.6" y2="39.4" stroke="#8c8c8c" stroke-width="0.8"/>
<line x1="414.2" y1="103.4" x2="678.6" y2="103.4" stroke="#cacaca" stroke-width="0.9"/>
<line x1="414.2" y1="103.4" x2="419.6" y2="103.4" stroke="#8c8c8c" stroke-width="0.8"/>
<line x1="673.2" y1="103.4" x2="678.6" y2="103.4" stroke="#8c8c8c" stroke-width="0.8"/>
<line x1="414.2" y1="167.4" x2="678.6" y2="167.4" stroke="#cacaca" stroke-width="0.9"/>
<line x1="414.2" y1="167.4" x2="419.6" y2="167.4" stroke="#8c8c8c" stroke-width="0.8"/>
<line x1="673.2" y1="167.4" x2="678.6" y2="167.4" stroke="#8c8c8c" stroke-width="0.8"/>
<line x1="418.92" y1="226" x2="418.92" y2="222.8" stroke="#8c8c8c" stroke-width="0.7"/>
<line x1="418.92" y1="7" x2="418.92" y2="10.2" stroke="#8c8c8c" stroke-width="0.7"/>
<line x1="423.64" y1="226" x2="423.64" y2="222.8" stroke="#8c8c8c" stroke-width="0.7"/>
<line x1="423.64" y1="7" x2="423.64" y2="10.2" stroke="#8c8c8c" stroke-width="0.7"/>
<line x1="428.36" y1="226" x2="428.36" y2="222.8" stroke="#8c8c8c" stroke-width="0.7"/>
<line x1="428.36" y1="7" x2="428.36" y2="10.2" stroke="#8c8c8c" stroke-width="0.7"/>
<line x1="433.09" y1="226" x2="433.09" y2="222.8" stroke="#8c8c8c" stroke-width="0.7"/>
<line x1="433.09" y1="7" x2="433.09" y2="10.2" stroke="#8c8c8c" stroke-width="0.7"/>
<line x1="437.81" y1="226" x2="437.81" y2="222.8" stroke="#8c8c8c" stroke-width="0.7"/>
<line x1="437.81" y1="7" x2="437.81" y2="10.2" stroke="#8c8c8c" stroke-width="0.7"/>
<line x1="442.53" y1="226" x2="442.53" y2="222.8" stroke="#8c8c8c" stroke-width="0.7"/>
<line x1="442.53" y1="7" x2="442.53" y2="10.2" stroke="#8c8c8c" stroke-width="0.7"/>
<line x1="447.25" y1="226" x2="447.25" y2="220.6" stroke="#8c8c8c" stroke-width="0.7"/>
<line x1="447.25" y1="7" x2="447.25" y2="12.4" stroke="#8c8c8c" stroke-width="0.7"/>
<line x1="451.97" y1="226" x2="451.97" y2="222.8" stroke="#8c8c8c" stroke-width="0.7"/>
<line x1="451.97" y1="7" x2="451.97" y2="10.2" stroke="#8c8c8c" stroke-width="0.7"/>
<line x1="456.69" y1="226" x2="456.69" y2="222.8" stroke="#8c8c8c" stroke-width="0.7"/>
<line x1="456.69" y1="7" x2="456.69" y2="10.2" stroke="#8c8c8c" stroke-width="0.7"/>
<line x1="461.41" y1="226" x2="461.41" y2="222.8" stroke="#8c8c8c" stroke-width="0.7"/>
<line x1="461.41" y1="7" x2="461.41" y2="10.2" stroke="#8c8c8c" stroke-width="0.7"/>
<line x1="466.14" y1="226" x2="466.14" y2="222.8" stroke="#8c8c8c" stroke-width="0.7"/>
<line x1="466.14" y1="7" x2="466.14" y2="10.2" stroke="#8c8c8c" stroke-width="0.7"/>
<line x1="470.86" y1="226" x2="470.86" y2="222.8" stroke="#8c8c8c" stroke-width="0.7"/>
<line x1="470.86" y1="7" x2="470.86" y2="10.2" stroke="#8c8c8c" stroke-width="0.7"/>
<line x1="475.58" y1="226" x2="475.58" y2="222.8" stroke="#8c8c8c" stroke-width="0.7"/>
<line x1="475.58" y1="7" x2="475.58" y2="10.2" stroke="#8c8c8c" stroke-width="0.7"/>
<line x1="480.3" y1="226" x2="480.3" y2="220.6" stroke="#8c8c8c" stroke-width="0.7"/>
<line x1="480.3" y1="7" x2="480.3" y2="12.4" stroke="#8c8c8c" stroke-width="0.7"/>
<line x1="485.02" y1="226" x2="485.02" y2="222.8" stroke="#8c8c8c" stroke-width="0.7"/>
<line x1="485.02" y1="7" x2="485.02" y2="10.2" stroke="#8c8c8c" stroke-width="0.7"/>
<line x1="489.74" y1="226" x2="489.74" y2="222.8" stroke="#8c8c8c" stroke-width="0.7"/>
<line x1="489.74" y1="7" x2="489.74" y2="10.2" stroke="#8c8c8c" stroke-width="0.7"/>
<line x1="494.46" y1="226" x2="494.46" y2="222.8" stroke="#8c8c8c" stroke-width="0.7"/>
<line x1="494.46" y1="7" x2="494.46" y2="10.2" stroke="#8c8c8c" stroke-width="0.7"/>
<line x1="499.19" y1="226" x2="499.19" y2="222.8" stroke="#8c8c8c" stroke-width="0.7"/>
<line x1="499.19" y1="7" x2="499.19" y2="10.2" stroke="#8c8c8c" stroke-width="0.7"/>
<line x1="503.91" y1="226" x2="503.91" y2="222.8" stroke="#8c8c8c" stroke-width="0.7"/>
<line x1="503.91" y1="7" x2="503.91" y2="10.2" stroke="#8c8c8c" stroke-width="0.7"/>
<line x1="508.63" y1="226" x2="508.63" y2="222.8" stroke="#8c8c8c" stroke-width="0.7"/>
<line x1="508.63" y1="7" x2="508.63" y2="10.2" stroke="#8c8c8c" stroke-width="0.7"/>
<line x1="513.35" y1="226" x2="513.35" y2="220.6" stroke="#8c8c8c" stroke-width="0.7"/>
<line x1="513.35" y1="7" x2="513.35" y2="12.4" stroke="#8c8c8c" stroke-width="0.7"/>
<line x1="518.07" y1="226" x2="518.07" y2="222.8" stroke="#8c8c8c" stroke-width="0.7"/>
<line x1="518.07" y1="7" x2="518.07" y2="10.2" stroke="#8c8c8c" stroke-width="0.7"/>
<line x1="522.79" y1="226" x2="522.79" y2="222.8" stroke="#8c8c8c" stroke-width="0.7"/>
<line x1="522.79" y1="7" x2="522.79" y2="10.2" stroke="#8c8c8c" stroke-width="0.7"/>
<line x1="527.51" y1="226" x2="527.51" y2="222.8" stroke="#8c8c8c" stroke-width="0.7"/>
<line x1="527.51" y1="7" x2="527.51" y2="10.2" stroke="#8c8c8c" stroke-width="0.7"/>
<line x1="532.24" y1="226" x2="532.24" y2="222.8" stroke="#8c8c8c" stroke-width="0.7"/>
<line x1="532.24" y1="7" x2="532.24" y2="10.2" stroke="#8c8c8c" stroke-width="0.7"/>
<line x1="536.96" y1="226" x2="536.96" y2="222.8" stroke="#8c8c8c" stroke-width="0.7"/>
<line x1="536.96" y1="7" x2="536.96" y2="10.2" stroke="#8c8c8c" stroke-width="0.7"/>
<line x1="541.68" y1="226" x2="541.68" y2="222.8" stroke="#8c8c8c" stroke-width="0.7"/>
<line x1="541.68" y1="7" x2="541.68" y2="10.2" stroke="#8c8c8c" stroke-width="0.7"/>
<line x1="546.4" y1="226" x2="546.4" y2="220.6" stroke="#8c8c8c" stroke-width="0.7"/>
<line x1="546.4" y1="7" x2="546.4" y2="12.4" stroke="#8c8c8c" stroke-width="0.7"/>
<line x1="551.12" y1="226" x2="551.12" y2="222.8" stroke="#8c8c8c" stroke-width="0.7"/>
<line x1="551.12" y1="7" x2="551.12" y2="10.2" stroke="#8c8c8c" stroke-width="0.7"/>
<line x1="555.84" y1="226" x2="555.84" y2="222.8" stroke="#8c8c8c" stroke-width="0.7"/>
<line x1="555.84" y1="7" x2="555.84" y2="10.2" stroke="#8c8c8c" stroke-width="0.7"/>
<line x1="560.56" y1="226" x2="560.56" y2="222.8" stroke="#8c8c8c" stroke-width="0.7"/>
<line x1="560.56" y1="7" x2="560.56" y2="10.2" stroke="#8c8c8c" stroke-width="0.7"/>
<line x1="565.29" y1="226" x2="565.29" y2="222.8" stroke="#8c8c8c" stroke-width="0.7"/>
<line x1="565.29" y1="7" x2="565.29" y2="10.2" stroke="#8c8c8c" stroke-width="0.7"/>
<line x1="570.01" y1="226" x2="570.01" y2="222.8" stroke="#8c8c8c" stroke-width="0.7"/>
<line x1="570.01" y1="7" x2="570.01" y2="10.2" stroke="#8c8c8c" stroke-width="0.7"/>
<line x1="574.73" y1="226" x2="574.73" y2="222.8" stroke="#8c8c8c" stroke-width="0.7"/>
<line x1="574.73" y1="7" x2="574.73" y2="10.2" stroke="#8c8c8c" stroke-width="0.7"/>
<line x1="579.45" y1="226" x2="579.45" y2="220.6" stroke="#8c8c8c" stroke-width="0.7"/>
<line x1="579.45" y1="7" x2="579.45" y2="12.4" stroke="#8c8c8c" stroke-width="0.7"/>
<line x1="584.17" y1="226" x2="584.17" y2="222.8" stroke="#8c8c8c" stroke-width="0.7"/>
<line x1="584.17" y1="7" x2="584.17" y2="10.2" stroke="#8c8c8c" stroke-width="0.7"/>
<line x1="588.89" y1="226" x2="588.89" y2="222.8" stroke="#8c8c8c" stroke-width="0.7"/>
<line x1="588.89" y1="7" x2="588.89" y2="10.2" stroke="#8c8c8c" stroke-width="0.7"/>
<line x1="593.61" y1="226" x2="593.61" y2="222.8" stroke="#8c8c8c" stroke-width="0.7"/>
<line x1="593.61" y1="7" x2="593.61" y2="10.2" stroke="#8c8c8c" stroke-width="0.7"/>
<line x1="598.34" y1="226" x2="598.34" y2="222.8" stroke="#8c8c8c" stroke-width="0.7"/>
<line x1="598.34" y1="7" x2="598.34" y2="10.2" stroke="#8c8c8c" stroke-width="0.7"/>
<line x1="603.06" y1="226" x2="603.06" y2="222.8" stroke="#8c8c8c" stroke-width="0.7"/>
<line x1="603.06" y1="7" x2="603.06" y2="10.2" stroke="#8c8c8c" stroke-width="0.7"/>
<line x1="607.78" y1="226" x2="607.78" y2="222.8" stroke="#8c8c8c" stroke-width="0.7"/>
<line x1="607.78" y1="7" x2="607.78" y2="10.2" stroke="#8c8c8c" stroke-width="0.7"/>
<line x1="612.5" y1="226" x2="612.5" y2="220.6" stroke="#8c8c8c" stroke-width="0.7"/>
<line x1="612.5" y1="7" x2="612.5" y2="12.4" stroke="#8c8c8c" stroke-width="0.7"/>
<line x1="617.22" y1="226" x2="617.22" y2="222.8" stroke="#8c8c8c" stroke-width="0.7"/>
<line x1="617.22" y1="7" x2="617.22" y2="10.2" stroke="#8c8c8c" stroke-width="0.7"/>
<line x1="621.94" y1="226" x2="621.94" y2="222.8" stroke="#8c8c8c" stroke-width="0.7"/>
<line x1="621.94" y1="7" x2="621.94" y2="10.2" stroke="#8c8c8c" stroke-width="0.7"/>
<line x1="626.66" y1="226" x2="626.66" y2="222.8" stroke="#8c8c8c" stroke-width="0.7"/>
<line x1="626.66" y1="7" x2="626.66" y2="10.2" stroke="#8c8c8c" stroke-width="0.7"/>
<line x1="631.39" y1="226" x2="631.39" y2="222.8" stroke="#8c8c8c" stroke-width="0.7"/>
<line x1="631.39" y1="7" x2="631.39" y2="10.2" stroke="#8c8c8c" stroke-width="0.7"/>
<line x1="636.11" y1="226" x2="636.11" y2="222.8" stroke="#8c8c8c" stroke-width="0.7"/>
<line x1="636.11" y1="7" x2="636.11" y2="10.2" stroke="#8c8c8c" stroke-width="0.7"/>
<line x1="640.83" y1="226" x2="640.83" y2="222.8" stroke="#8c8c8c" stroke-width="0.7"/>
<line x1="640.83" y1="7" x2="640.83" y2="10.2" stroke="#8c8c8c" stroke-width="0.7"/>
<line x1="645.55" y1="226" x2="645.55" y2="220.6" stroke="#8c8c8c" stroke-width="0.7"/>
<line x1="645.55" y1="7" x2="645.55" y2="12.4" stroke="#8c8c8c" stroke-width="0.7"/>
<line x1="650.27" y1="226" x2="650.27" y2="222.8" stroke="#8c8c8c" stroke-width="0.7"/>
<line x1="650.27" y1="7" x2="650.27" y2="10.2" stroke="#8c8c8c" stroke-width="0.7"/>
<line x1="654.99" y1="226" x2="654.99" y2="222.8" stroke="#8c8c8c" stroke-width="0.7"/>
<line x1="654.99" y1="7" x2="654.99" y2="10.2" stroke="#8c8c8c" stroke-width="0.7"/>
<line x1="659.71" y1="226" x2="659.71" y2="222.8" stroke="#8c8c8c" stroke-width="0.7"/>
<line x1="659.71" y1="7" x2="659.71" y2="10.2" stroke="#8c8c8c" stroke-width="0.7"/>
<line x1="664.44" y1="226" x2="664.44" y2="222.8" stroke="#8c8c8c" stroke-width="0.7"/>
<line x1="664.44" y1="7" x2="664.44" y2="10.2" stroke="#8c8c8c" stroke-width="0.7"/>
<line x1="669.16" y1="226" x2="669.16" y2="222.8" stroke="#8c8c8c" stroke-width="0.7"/>
<line x1="669.16" y1="7" x2="669.16" y2="10.2" stroke="#8c8c8c" stroke-width="0.7"/>
<line x1="673.88" y1="226" x2="673.88" y2="222.8" stroke="#8c8c8c" stroke-width="0.7"/>
<line x1="673.88" y1="7" x2="673.88" y2="10.2" stroke="#8c8c8c" stroke-width="0.7"/>
<polyline clip-path="url(#cpb)" points="414.2,25.95 447.25,29.83 480.3,34.68 513.35,40.63 546.4,49.89 579.45,62.07 612.5,76.3 645.55,98.62 678.6,133.08" fill="none" stroke="#2020ff" stroke-width="0.85"/>
<circle cx="414.2" cy="25.95" r="2.9" fill="#0000d8" stroke="#0000ff" stroke-width="0.6"/><circle cx="447.25" cy="29.83" r="2.9" fill="#0000d8" stroke="#0000ff" stroke-width="0.6"/><circle cx="480.3" cy="34.68" r="2.9" fill="#0000d8" stroke="#0000ff" stroke-width="0.6"/><circle cx="513.35" cy="40.63" r="2.9" fill="#0000d8" stroke="#0000ff" stroke-width="0.6"/><circle cx="546.4" cy="49.89" r="2.9" fill="#0000d8" stroke="#0000ff" stroke-width="0.6"/><circle cx="579.45" cy="62.07" r="2.9" fill="#0000d8" stroke="#0000ff" stroke-width="0.6"/><circle cx="612.5" cy="76.3" r="2.9" fill="#0000d8" stroke="#0000ff" stroke-width="0.6"/><circle cx="645.55" cy="98.62" r="2.9" fill="#0000d8" stroke="#0000ff" stroke-width="0.6"/><circle cx="678.6" cy="133.08" r="2.9" fill="#0000d8" stroke="#0000ff" stroke-width="0.6"/>
<polyline clip-path="url(#cpb)" points="414.2,25.95 447.25,29.21 480.3,34.03 513.35,39.92 546.4,49.03 579.45,60.98 612.5,75.8 645.55,99.49 678.6,134.43" fill="none" stroke="#ff1010" stroke-width="0.85"/>
<rect x="411.3" y="23.05" width="5.8" height="5.8" fill="#d80000" stroke="#ff0000" stroke-width="0.6"/><rect x="444.35" y="26.31" width="5.8" height="5.8" fill="#d80000" stroke="#ff0000" stroke-width="0.6"/><rect x="477.4" y="31.13" width="5.8" height="5.8" fill="#d80000" stroke="#ff0000" stroke-width="0.6"/><rect x="510.45" y="37.02" width="5.8" height="5.8" fill="#d80000" stroke="#ff0000" stroke-width="0.6"/><rect x="543.5" y="46.13" width="5.8" height="5.8" fill="#d80000" stroke="#ff0000" stroke-width="0.6"/><rect x="576.55" y="58.08" width="5.8" height="5.8" fill="#d80000" stroke="#ff0000" stroke-width="0.6"/><rect x="609.6" y="72.9" width="5.8" height="5.8" fill="#d80000" stroke="#ff0000" stroke-width="0.6"/><rect x="642.65" y="96.59" width="5.8" height="5.8" fill="#d80000" stroke="#ff0000" stroke-width="0.6"/><rect x="675.7" y="131.53" width="5.8" height="5.8" fill="#d80000" stroke="#ff0000" stroke-width="0.6"/>
<polyline clip-path="url(#cpb)" points="414.2,25.95 447.25,30.44 480.3,35.33 513.35,41.35 546.4,50.74 579.45,63.15 612.5,77.47 645.55,100.54 678.6,137.14" fill="none" stroke="#a87040" stroke-width="0.85"/>
<circle cx="414.2" cy="25.95" r="2.9" fill="#9a6633" stroke="#8a5a2a" stroke-width="0.6"/><circle cx="447.25" cy="30.44" r="2.9" fill="#9a6633" stroke="#8a5a2a" stroke-width="0.6"/><circle cx="480.3" cy="35.33" r="2.9" fill="#9a6633" stroke="#8a5a2a" stroke-width="0.6"/><circle cx="513.35" cy="41.35" r="2.9" fill="#9a6633" stroke="#8a5a2a" stroke-width="0.6"/><circle cx="546.4" cy="50.74" r="2.9" fill="#9a6633" stroke="#8a5a2a" stroke-width="0.6"/><circle cx="579.45" cy="63.15" r="2.9" fill="#9a6633" stroke="#8a5a2a" stroke-width="0.6"/><circle cx="612.5" cy="77.47" r="2.9" fill="#9a6633" stroke="#8a5a2a" stroke-width="0.6"/><circle cx="645.55" cy="100.54" r="2.9" fill="#9a6633" stroke="#8a5a2a" stroke-width="0.6"/><circle cx="678.6" cy="137.14" r="2.9" fill="#9a6633" stroke="#8a5a2a" stroke-width="0.6"/>
<polyline clip-path="url(#cpb)" points="414.2,25.95 447.25,31.06 480.3,35.98 513.35,42.06 546.4,51.59 579.45,64.24 612.5,76.97 645.55,101.07 678.6,137.66" fill="none" stroke="#202020" stroke-width="0.85"/>
<path d="M414.2 25.95L414.2 23.05M414.2 25.95L411.44 25.05M414.2 25.95L412.5 28.29M414.2 25.95L415.9 28.29M414.2 25.95L416.96 25.05" stroke="#000" stroke-width="0.9" fill="none"/><path d="M447.25 31.06L447.25 28.16M447.25 31.06L444.49 30.16M447.25 31.06L445.55 33.41M447.25 31.06L448.95 33.41M447.25 31.06L450.01 30.16" stroke="#000" stroke-width="0.9" fill="none"/><path d="M480.3 35.98L480.3 33.08M480.3 35.98L477.54 35.08M480.3 35.98L478.6 38.33M480.3 35.98L482 38.33M480.3 35.98L483.06 35.08" stroke="#000" stroke-width="0.9" fill="none"/><path d="M513.35 42.06L513.35 39.16M513.35 42.06L510.59 41.17M513.35 42.06L511.65 44.41M513.35 42.06L515.05 44.41M513.35 42.06L516.11 41.17" stroke="#000" stroke-width="0.9" fill="none"/><path d="M546.4 51.59L546.4 48.69M546.4 51.59L543.64 50.7M546.4 51.59L544.7 53.94M546.4 51.59L548.1 53.94M546.4 51.59L549.16 50.7" stroke="#000" stroke-width="0.9" fill="none"/><path d="M579.45 64.24L579.45 61.34M579.45 64.24L576.69 63.34M579.45 64.24L577.75 66.58M579.45 64.24L581.15 66.58M579.45 64.24L582.21 63.34" stroke="#000" stroke-width="0.9" fill="none"/><path d="M612.5 76.97L612.5 74.07M612.5 76.97L609.74 76.07M612.5 76.97L610.8 79.31M612.5 76.97L614.2 79.31M612.5 76.97L615.26 76.07" stroke="#000" stroke-width="0.9" fill="none"/><path d="M645.55 101.07L645.55 98.17M645.55 101.07L642.79 100.18M645.55 101.07L643.85 103.42M645.55 101.07L647.25 103.42M645.55 101.07L648.31 100.18" stroke="#000" stroke-width="0.9" fill="none"/><path d="M678.6 137.66L678.6 134.76M678.6 137.66L675.84 136.77M678.6 137.66L676.9 140.01M678.6 137.66L680.3 140.01M678.6 137.66L681.36 136.77" stroke="#000" stroke-width="0.9" fill="none"/>
<polyline clip-path="url(#cpb)" points="414.2,25.95 447.25,31.68 480.3,36.63 513.35,42.78 546.4,52.45 579.45,65.32 612.5,79.58 645.55,102.76 678.6,145.82" fill="none" stroke="#2020ff" stroke-width="0.85"/>
<path d="M414.2 22.85L416.5 25.95L414.2 29.05L411.9 25.95Z" fill="#0000d8" stroke="#0000ff" stroke-width="0.5"/><path d="M447.25 28.58L449.55 31.68L447.25 34.78L444.95 31.68Z" fill="#0000d8" stroke="#0000ff" stroke-width="0.5"/><path d="M480.3 33.53L482.6 36.63L480.3 39.73L478 36.63Z" fill="#0000d8" stroke="#0000ff" stroke-width="0.5"/><path d="M513.35 39.68L515.65 42.78L513.35 45.88L511.05 42.78Z" fill="#0000d8" stroke="#0000ff" stroke-width="0.5"/><path d="M546.4 49.35L548.7 52.45L546.4 55.55L544.1 52.45Z" fill="#0000d8" stroke="#0000ff" stroke-width="0.5"/><path d="M579.45 62.22L581.75 65.32L579.45 68.42L577.15 65.32Z" fill="#0000d8" stroke="#0000ff" stroke-width="0.5"/><path d="M612.5 76.48L614.8 79.58L612.5 82.68L610.2 79.58Z" fill="#0000d8" stroke="#0000ff" stroke-width="0.5"/><path d="M645.55 99.66L647.85 102.76L645.55 105.86L643.25 102.76Z" fill="#0000d8" stroke="#0000ff" stroke-width="0.5"/><path d="M678.6 142.72L680.9 145.82L678.6 148.92L676.3 145.82Z" fill="#0000d8" stroke="#0000ff" stroke-width="0.5"/>
<polyline clip-path="url(#cpb)" points="414.2,25.95 447.25,32.29 480.3,37.28 513.35,43.49 546.4,53.3 579.45,66.41 612.5,82.4 645.55,107.89 678.6,152.47" fill="none" stroke="#ff1010" stroke-width="0.85" stroke-dasharray="3.5 3.1"/>
<circle cx="414.2" cy="25.95" r="2.9" fill="#e00000" stroke="#ff0000" stroke-width="0.6"/><circle cx="447.25" cy="32.29" r="2.9" fill="#e00000" stroke="#ff0000" stroke-width="0.6"/><circle cx="480.3" cy="37.28" r="2.9" fill="#e00000" stroke="#ff0000" stroke-width="0.6"/><circle cx="513.35" cy="43.49" r="2.9" fill="#e00000" stroke="#ff0000" stroke-width="0.6"/><circle cx="546.4" cy="53.3" r="2.9" fill="#e00000" stroke="#ff0000" stroke-width="0.6"/><circle cx="579.45" cy="66.41" r="2.9" fill="#e00000" stroke="#ff0000" stroke-width="0.6"/><circle cx="612.5" cy="82.4" r="2.9" fill="#e00000" stroke="#ff0000" stroke-width="0.6"/><circle cx="645.55" cy="107.89" r="2.9" fill="#e00000" stroke="#ff0000" stroke-width="0.6"/><circle cx="678.6" cy="152.47" r="2.9" fill="#e00000" stroke="#ff0000" stroke-width="0.6"/>
<polyline clip-path="url(#cpb)" points="414.2,25.95 447.25,32.91 480.3,37.93 513.35,44.21 546.4,54.16 579.45,67.49 612.5,85.09 645.55,111.84 678.6,158.5" fill="none" stroke="#a87040" stroke-width="0.85" stroke-dasharray="3.5 3.1"/>
<rect x="411.3" y="23.05" width="5.8" height="5.8" fill="#9a6633" stroke="#7a4a1a" stroke-width="0.6"/><rect x="444.35" y="30.01" width="5.8" height="5.8" fill="#9a6633" stroke="#7a4a1a" stroke-width="0.6"/><rect x="477.4" y="35.03" width="5.8" height="5.8" fill="#9a6633" stroke="#7a4a1a" stroke-width="0.6"/><rect x="510.45" y="41.31" width="5.8" height="5.8" fill="#9a6633" stroke="#7a4a1a" stroke-width="0.6"/><rect x="543.5" y="51.26" width="5.8" height="5.8" fill="#9a6633" stroke="#7a4a1a" stroke-width="0.6"/><rect x="576.55" y="64.59" width="5.8" height="5.8" fill="#9a6633" stroke="#7a4a1a" stroke-width="0.6"/><rect x="609.6" y="82.19" width="5.8" height="5.8" fill="#9a6633" stroke="#7a4a1a" stroke-width="0.6"/><rect x="642.65" y="108.94" width="5.8" height="5.8" fill="#9a6633" stroke="#7a4a1a" stroke-width="0.6"/><rect x="675.7" y="155.6" width="5.8" height="5.8" fill="#9a6633" stroke="#7a4a1a" stroke-width="0.6"/>
<polyline clip-path="url(#cpb)" points="414.2,25.95 447.25,33.52 480.3,38.58 513.35,44.92 546.4,55.01 579.45,68.58 612.5,88.59 645.55,117.24 678.6,166.66" fill="none" stroke="#202020" stroke-width="0.85" stroke-dasharray="3.5 3.1"/>
<circle cx="414.2" cy="25.95" r="2.4" fill="#c8c8c8" stroke="#000" stroke-width="1.1"/><path d="M412.4 24.15L416 27.75M412.4 27.75L416 24.15" stroke="#000" stroke-width="0.9"/><circle cx="447.25" cy="33.52" r="2.4" fill="#c8c8c8" stroke="#000" stroke-width="1.1"/><path d="M445.45 31.73L449.05 35.32M445.45 35.32L449.05 31.73" stroke="#000" stroke-width="0.9"/><circle cx="480.3" cy="38.58" r="2.4" fill="#c8c8c8" stroke="#000" stroke-width="1.1"/><path d="M478.5 36.78L482.1 40.38M478.5 40.38L482.1 36.78" stroke="#000" stroke-width="0.9"/><circle cx="513.35" cy="44.92" r="2.4" fill="#c8c8c8" stroke="#000" stroke-width="1.1"/><path d="M511.55 43.12L515.15 46.72M511.55 46.72L515.15 43.12" stroke="#000" stroke-width="0.9"/><circle cx="546.4" cy="55.01" r="2.4" fill="#c8c8c8" stroke="#000" stroke-width="1.1"/><path d="M544.6 53.21L548.2 56.81M544.6 56.81L548.2 53.21" stroke="#000" stroke-width="0.9"/><circle cx="579.45" cy="68.58" r="2.4" fill="#c8c8c8" stroke="#000" stroke-width="1.1"/><path d="M577.65 66.78L581.25 70.37M577.65 70.37L581.25 66.78" stroke="#000" stroke-width="0.9"/><circle cx="612.5" cy="88.59" r="2.4" fill="#c8c8c8" stroke="#000" stroke-width="1.1"/><path d="M610.7 86.79L614.3 90.38M610.7 90.38L614.3 86.79" stroke="#000" stroke-width="0.9"/><circle cx="645.55" cy="117.24" r="2.4" fill="#c8c8c8" stroke="#000" stroke-width="1.1"/><path d="M643.75 115.44L647.35 119.03M643.75 119.03L647.35 115.44" stroke="#000" stroke-width="0.9"/><circle cx="678.6" cy="166.66" r="2.4" fill="#c8c8c8" stroke="#000" stroke-width="1.1"/><path d="M676.8 164.87L680.4 168.46M676.8 168.46L680.4 164.87" stroke="#000" stroke-width="0.9"/>
<polyline clip-path="url(#cpb)" points="414.2,25.95 447.25,34.14 480.3,39.23 513.35,45.64 546.4,55.86 579.45,69.66 612.5,90.61 645.55,119.96 678.6,171.63" fill="none" stroke="#2020ff" stroke-width="0.85" stroke-dasharray="3.5 3.1"/>
<path d="M414.2 25.95L414.2 23.05M414.2 25.95L411.44 25.05M414.2 25.95L412.5 28.29M414.2 25.95L415.9 28.29M414.2 25.95L416.96 25.05" stroke="#0000ff" stroke-width="0.9" fill="none"/><path d="M447.25 34.14L447.25 31.24M447.25 34.14L444.49 33.24M447.25 34.14L445.55 36.49M447.25 34.14L448.95 36.49M447.25 34.14L450.01 33.24" stroke="#0000ff" stroke-width="0.9" fill="none"/><path d="M480.3 39.23L480.3 36.33M480.3 39.23L477.54 38.34M480.3 39.23L478.6 41.58M480.3 39.23L482 41.58M480.3 39.23L483.06 38.34" stroke="#0000ff" stroke-width="0.9" fill="none"/><path d="M513.35 45.64L513.35 42.74M513.35 45.64L510.59 44.74M513.35 45.64L511.65 47.98M513.35 45.64L515.05 47.98M513.35 45.64L516.11 44.74" stroke="#0000ff" stroke-width="0.9" fill="none"/><path d="M546.4 55.86L546.4 52.96M546.4 55.86L543.64 54.97M546.4 55.86L544.7 58.21M546.4 55.86L548.1 58.21M546.4 55.86L549.16 54.97" stroke="#0000ff" stroke-width="0.9" fill="none"/><path d="M579.45 69.66L579.45 66.76M579.45 69.66L576.69 68.77M579.45 69.66L577.75 72.01M579.45 69.66L581.15 72.01M579.45 69.66L582.21 68.77" stroke="#0000ff" stroke-width="0.9" fill="none"/><path d="M612.5 90.61L612.5 87.71M612.5 90.61L609.74 89.72M612.5 90.61L610.8 92.96M612.5 90.61L614.2 92.96M612.5 90.61L615.26 89.72" stroke="#0000ff" stroke-width="0.9" fill="none"/><path d="M645.55 119.96L645.55 117.06M645.55 119.96L642.79 119.06M645.55 119.96L643.85 122.3M645.55 119.96L647.25 122.3M645.55 119.96L648.31 119.06" stroke="#0000ff" stroke-width="0.9" fill="none"/><path d="M678.6 171.63L678.6 168.73M678.6 171.63L675.84 170.74M678.6 171.63L676.9 173.98M678.6 171.63L680.3 173.98M678.6 171.63L681.36 170.74" stroke="#0000ff" stroke-width="0.9" fill="none"/>
<polyline clip-path="url(#cpb)" points="414.2,25.95 447.25,34.76 480.3,39.88 513.35,46.35 546.4,56.72 579.45,70.75 612.5,94.08 645.55,126.25 678.6,176.88" fill="none" stroke="#ff1010" stroke-width="0.85" stroke-dasharray="3.5 3.1"/>
<path d="M414.2 22.85L416.5 25.95L414.2 29.05L411.9 25.95Z" fill="#e00000" stroke="#ff0000" stroke-width="0.5"/><path d="M447.25 31.66L449.55 34.76L447.25 37.86L444.95 34.76Z" fill="#e00000" stroke="#ff0000" stroke-width="0.5"/><path d="M480.3 36.78L482.6 39.88L480.3 42.98L478 39.88Z" fill="#e00000" stroke="#ff0000" stroke-width="0.5"/><path d="M513.35 43.25L515.65 46.35L513.35 49.45L511.05 46.35Z" fill="#e00000" stroke="#ff0000" stroke-width="0.5"/><path d="M546.4 53.62L548.7 56.72L546.4 59.82L544.1 56.72Z" fill="#e00000" stroke="#ff0000" stroke-width="0.5"/><path d="M579.45 67.65L581.75 70.75L579.45 73.85L577.15 70.75Z" fill="#e00000" stroke="#ff0000" stroke-width="0.5"/><path d="M612.5 90.98L614.8 94.08L612.5 97.18L610.2 94.08Z" fill="#e00000" stroke="#ff0000" stroke-width="0.5"/><path d="M645.55 123.15L647.85 126.25L645.55 129.35L643.25 126.25Z" fill="#e00000" stroke="#ff0000" stroke-width="0.5"/><path d="M678.6 173.78L680.9 176.88L678.6 179.98L676.3 176.88Z" fill="#e00000" stroke="#ff0000" stroke-width="0.5"/>
<polyline clip-path="url(#cpb)" points="414.2,25.95 447.25,35.37 480.3,40.53 513.35,47.07 546.4,57.57 579.45,71.83 612.5,96.18 645.55,133.08 678.6,184.11" fill="none" stroke="#2020ff" stroke-width="0.85"/>
<path d="M414.2 22.95L416.8 27.45L411.6 27.45Z" fill="#fff" stroke="#0000ff" stroke-width="0.9"/><path d="M447.25 32.37L449.85 36.87L444.65 36.87Z" fill="#fff" stroke="#0000ff" stroke-width="0.9"/><path d="M480.3 37.53L482.9 42.03L477.7 42.03Z" fill="#fff" stroke="#0000ff" stroke-width="0.9"/><path d="M513.35 44.07L515.95 48.57L510.75 48.57Z" fill="#fff" stroke="#0000ff" stroke-width="0.9"/><path d="M546.4 54.57L549 59.07L543.8 59.07Z" fill="#fff" stroke="#0000ff" stroke-width="0.9"/><path d="M579.45 68.83L582.05 73.33L576.85 73.33Z" fill="#fff" stroke="#0000ff" stroke-width="0.9"/><path d="M612.5 93.18L615.1 97.68L609.9 97.68Z" fill="#fff" stroke="#0000ff" stroke-width="0.9"/><path d="M645.55 130.08L648.15 134.58L642.95 134.58Z" fill="#fff" stroke="#0000ff" stroke-width="0.9"/><path d="M678.6 181.11L681.2 185.61L676 185.61Z" fill="#fff" stroke="#0000ff" stroke-width="0.9"/>
<polyline clip-path="url(#cpb)" points="414.2,25.95 447.25,35.99 480.3,41.18 513.35,47.78 546.4,58.43 579.45,72.92 612.5,97.53 645.55,141.65 678.6,195.62" fill="none" stroke="#ff1010" stroke-width="0.85"/>
<path d="M414.2 28.85L414.2 23.05M416.71 27.4L411.69 24.5M416.71 24.5L411.69 27.4" stroke="#ff0000" stroke-width="1.3" fill="none"/><path d="M447.25 38.89L447.25 33.09M449.76 37.44L444.74 34.54M449.76 34.54L444.74 37.44" stroke="#ff0000" stroke-width="1.3" fill="none"/><path d="M480.3 44.08L480.3 38.28M482.81 42.63L477.79 39.73M482.81 39.73L477.79 42.63" stroke="#ff0000" stroke-width="1.3" fill="none"/><path d="M513.35 50.68L513.35 44.88M515.86 49.23L510.84 46.33M515.86 46.33L510.84 49.23" stroke="#ff0000" stroke-width="1.3" fill="none"/><path d="M546.4 61.33L546.4 55.53M548.91 59.88L543.89 56.98M548.91 56.98L543.89 59.88" stroke="#ff0000" stroke-width="1.3" fill="none"/><path d="M579.45 75.82L579.45 70.02M581.96 74.37L576.94 71.47M581.96 71.47L576.94 74.37" stroke="#ff0000" stroke-width="1.3" fill="none"/><path d="M612.5 100.43L612.5 94.63M615.01 98.98L609.99 96.08M615.01 96.08L609.99 98.98" stroke="#ff0000" stroke-width="1.3" fill="none"/><path d="M645.55 144.55L645.55 138.75M648.06 143.1L643.04 140.2M648.06 140.2L643.04 143.1" stroke="#ff0000" stroke-width="1.3" fill="none"/><path d="M678.6 198.52L678.6 192.72M681.11 197.07L676.09 194.17M681.11 194.17L676.09 197.07" stroke="#ff0000" stroke-width="1.3" fill="none"/>
<polyline clip-path="url(#cpb)" points="414.2,25.95 447.25,36.6 480.3,41.84 513.35,48.49 546.4,59.28 579.45,74 612.5,102.05 645.55,149.82 678.6,208.28" fill="none" stroke="#a87040" stroke-width="0.85"/>
<path d="M414.2 22.85L411.25 24.99L412.38 28.46L416.02 28.46L417.15 24.99Z" fill="#9a6633" stroke="#8a5a2a" stroke-width="0.5"/><path d="M447.25 33.5L444.3 35.65L445.43 39.11L449.07 39.11L450.2 35.65Z" fill="#9a6633" stroke="#8a5a2a" stroke-width="0.5"/><path d="M480.3 38.74L477.35 40.88L478.48 44.34L482.12 44.34L483.25 40.88Z" fill="#9a6633" stroke="#8a5a2a" stroke-width="0.5"/><path d="M513.35 45.39L510.4 47.54L511.53 51L515.17 51L516.3 47.54Z" fill="#9a6633" stroke="#8a5a2a" stroke-width="0.5"/><path d="M546.4 56.18L543.45 58.32L544.58 61.79L548.22 61.79L549.35 58.32Z" fill="#9a6633" stroke="#8a5a2a" stroke-width="0.5"/><path d="M579.45 70.9L576.5 73.04L577.63 76.51L581.27 76.51L582.4 73.04Z" fill="#9a6633" stroke="#8a5a2a" stroke-width="0.5"/><path d="M612.5 98.95L609.55 101.09L610.68 104.56L614.32 104.56L615.45 101.09Z" fill="#9a6633" stroke="#8a5a2a" stroke-width="0.5"/><path d="M645.55 146.72L642.6 148.86L643.73 152.33L647.37 152.33L648.5 148.86Z" fill="#9a6633" stroke="#8a5a2a" stroke-width="0.5"/><path d="M678.6 205.18L675.65 207.33L676.78 210.79L680.42 210.79L681.55 207.33Z" fill="#9a6633" stroke="#8a5a2a" stroke-width="0.5"/>
<rect x="414.2" y="7" width="264.4" height="219" fill="none" stroke="#3a3a3a" stroke-width="1.1"/>
<rect x="417.8" y="61.7" width="162.5" height="163.6" fill="#fff" stroke="#2a2a2a" stroke-width="0.9"/>
<line x1="422" y1="70.57" x2="445.4" y2="70.57" stroke="#0000ff" stroke-width="0.9"/>
<circle cx="433.8" cy="70.57" r="2.9" fill="#0000d8" stroke="#0000ff" stroke-width="0.6"/>
<text transform="translate(512,72.57) scale(1.16,1)" text-anchor="middle" textLength="60.07" lengthAdjust="spacing" class="lg">polar SC decoder</text>
<line x1="422" y1="82.73" x2="445.4" y2="82.73" stroke="#ff0000" stroke-width="0.9"/>
<rect x="430.9" y="79.83" width="5.8" height="5.8" fill="#d80000" stroke="#ff0000" stroke-width="0.6"/>
<text transform="translate(512,84.73) scale(1.16,1)" text-anchor="middle" textLength="49.34" lengthAdjust="spacing" class="lg">ESBP decoder</text>
<line x1="422" y1="94.89" x2="445.4" y2="94.89" stroke="#c4a484" stroke-width="1.4"/>
<circle cx="433.8" cy="94.89" r="2.9" fill="#9a6633" stroke="#8a5a2a" stroke-width="0.6"/>
<text transform="translate(512,96.89) scale(1.16,1)" text-anchor="middle" textLength="83.98" lengthAdjust="spacing" class="lg">Bi-LSTM based decoder</text>
<line x1="422" y1="107.05" x2="445.4" y2="107.05" stroke="#8a8a8a" stroke-width="1.4"/>
<path d="M433.8 107.05L433.8 104.15M433.8 107.05L431.04 106.15M433.8 107.05L432.1 109.4M433.8 107.05L435.5 109.4M433.8 107.05L436.56 106.15" stroke="#000" stroke-width="0.9" fill="none"/>
<text transform="translate(512,109.05) scale(1.16,1)" text-anchor="middle" textLength="61.59" lengthAdjust="spacing" class="lg">polar BP decoder</text>
<line x1="422" y1="119.21" x2="445.4" y2="119.21" stroke="#0000ff" stroke-width="0.9"/>
<path d="M433.8 116.11L436.1 119.21L433.8 122.31L431.5 119.21Z" fill="#0000d8" stroke="#0000ff" stroke-width="0.5"/>
<text transform="translate(512,121.21) scale(1.16,1)" text-anchor="middle" textLength="71.56" lengthAdjust="spacing" class="lg">polar SCAN decoder</text>
<line x1="422" y1="131.37" x2="445.4" y2="131.37" stroke="#ff0000" stroke-width="0.9" stroke-dasharray="3.6 3.2"/>
<circle cx="433.8" cy="131.37" r="2.9" fill="#e00000" stroke="#ff0000" stroke-width="0.6"/>
<text transform="translate(512,133.37) scale(1.16,1)" text-anchor="middle" textLength="64.88" lengthAdjust="spacing" class="lg">polar SSC decoder</text>
<line x1="422" y1="143.53" x2="445.4" y2="143.53" stroke="#a06838" stroke-width="0.9" stroke-dasharray="3.6 3.2"/>
<rect x="430.9" y="140.63" width="5.8" height="5.8" fill="#9a6633" stroke="#7a4a1a" stroke-width="0.6"/>
<text transform="translate(512,145.53) scale(1.16,1)" text-anchor="middle" textLength="65.14" lengthAdjust="spacing" class="lg">polar SCL decoder</text>
<line x1="422" y1="155.69" x2="445.4" y2="155.69" stroke="#3a3a3a" stroke-width="1.0" stroke-dasharray="3.6 3.2"/>
<circle cx="433.8" cy="155.69" r="2.4" fill="#c8c8c8" stroke="#000" stroke-width="1.1"/><path d="M432 153.89L435.6 157.49M432 157.49L435.6 153.89" stroke="#000" stroke-width="0.9"/>
<text transform="translate(512,157.69) scale(1.16,1)" text-anchor="middle" textLength="108.22" lengthAdjust="spacing" class="lg">polar SCL decoder with TLBO</text>
<line x1="422" y1="167.85" x2="445.4" y2="167.85" stroke="#4040ff" stroke-width="0.9" stroke-dasharray="3.6 3.2"/>
<path d="M433.8 167.85L433.8 164.95M433.8 167.85L431.04 166.95M433.8 167.85L432.1 170.2M433.8 167.85L435.5 170.2M433.8 167.85L436.56 166.95" stroke="#0000ff" stroke-width="0.9" fill="none"/>
<text transform="translate(512,169.85) scale(1.16,1)" text-anchor="middle" textLength="108.22" lengthAdjust="spacing" class="lg">polar SCL decoder with SARO</text>
<line x1="422" y1="180.01" x2="445.4" y2="180.01" stroke="#ff8c8c" stroke-width="1.4" stroke-dasharray="3.6 3.2"/>
<path d="M433.8 176.91L436.1 180.01L433.8 183.11L431.5 180.01Z" fill="#e00000" stroke="#ff0000" stroke-width="0.5"/>
<text transform="translate(512,182.01) scale(1.16,1)" text-anchor="middle" textLength="102.73" lengthAdjust="spacing" class="lg">polar SCL decoder with LBR</text>
<line x1="422" y1="192.17" x2="445.4" y2="192.17" stroke="#0000ff" stroke-width="0.9"/>
<path d="M433.8 189.17L436.4 193.67L431.2 193.67Z" fill="#fff" stroke="#0000ff" stroke-width="0.9"/>
<text transform="translate(512,194.17) scale(1.16,1)" text-anchor="middle" textLength="105.18" lengthAdjust="spacing" class="lg">RNN-based decoder with BES</text>
<line x1="422" y1="204.33" x2="445.4" y2="204.33" stroke="#ff0000" stroke-width="0.9"/>
<path d="M433.8 207.23L433.8 201.43M436.31 205.78L431.29 202.88M436.31 202.88L431.29 205.78" stroke="#ff0000" stroke-width="1.3" fill="none"/>
<text transform="translate(512,206.33) scale(1.16,1)" text-anchor="middle" textLength="107.12" lengthAdjust="spacing" class="lg">RNN-based decoder with HHA</text>
<line x1="422" y1="216.49" x2="445.4" y2="216.49" stroke="#a06838" stroke-width="0.9"/>
<path d="M433.8 213.39L430.85 215.53L431.98 219L435.62 219L436.75 215.53Z" fill="#9a6633" stroke="#8a5a2a" stroke-width="0.5"/>
<text transform="translate(512,218.49) scale(1.16,1)" text-anchor="middle" textLength="107.12" lengthAdjust="spacing" class="lg">RNN-based decoder with BHO</text>
<clipPath id="cpc"><rect x="230.3" y="292.3" width="271.2" height="224.7"/></clipPath>
<line x1="264.2" y1="292.3" x2="264.2" y2="517" stroke="#cacaca" stroke-width="0.9"/>
<line x1="298.1" y1="292.3" x2="298.1" y2="517" stroke="#cacaca" stroke-width="0.9"/>
<line x1="332" y1="292.3" x2="332" y2="517" stroke="#cacaca" stroke-width="0.9"/>
<line x1="365.9" y1="292.3" x2="365.9" y2="517" stroke="#cacaca" stroke-width="0.9"/>
<line x1="399.8" y1="292.3" x2="399.8" y2="517" stroke="#cacaca" stroke-width="0.9"/>
<line x1="433.7" y1="292.3" x2="433.7" y2="517" stroke="#cacaca" stroke-width="0.9"/>
<line x1="467.6" y1="292.3" x2="467.6" y2="517" stroke="#cacaca" stroke-width="0.9"/>
<line x1="230.3" y1="516.86" x2="501.5" y2="516.86" stroke="#d6d6d6" stroke-width="0.9"/>
<line x1="230.3" y1="516.86" x2="234.3" y2="516.86" stroke="#8c8c8c" stroke-width="0.8"/>
<line x1="497.5" y1="516.86" x2="501.5" y2="516.86" stroke="#8c8c8c" stroke-width="0.8"/>
<line x1="230.3" y1="514.3" x2="501.5" y2="514.3" stroke="#d6d6d6" stroke-width="0.9"/>
<line x1="230.3" y1="514.3" x2="234.3" y2="514.3" stroke="#8c8c8c" stroke-width="0.8"/>
<line x1="497.5" y1="514.3" x2="501.5" y2="514.3" stroke="#8c8c8c" stroke-width="0.8"/>
<line x1="230.3" y1="512" x2="501.5" y2="512" stroke="#cacaca" stroke-width="0.9"/>
<line x1="230.3" y1="512" x2="235.9" y2="512" stroke="#8c8c8c" stroke-width="0.8"/>
<line x1="495.9" y1="512" x2="501.5" y2="512" stroke="#8c8c8c" stroke-width="0.8"/>
<line x1="230.3" y1="496.89" x2="501.5" y2="496.89" stroke="#d6d6d6" stroke-width="0.9"/>
<line x1="230.3" y1="496.89" x2="234.3" y2="496.89" stroke="#8c8c8c" stroke-width="0.8"/>
<line x1="497.5" y1="496.89" x2="501.5" y2="496.89" stroke="#8c8c8c" stroke-width="0.8"/>
<line x1="230.3" y1="488.05" x2="501.5" y2="488.05" stroke="#d6d6d6" stroke-width="0.9"/>
<line x1="230.3" y1="488.05" x2="234.3" y2="488.05" stroke="#8c8c8c" stroke-width="0.8"/>
<line x1="497.5" y1="488.05" x2="501.5" y2="488.05" stroke="#8c8c8c" stroke-width="0.8"/>
<line x1="230.3" y1="481.78" x2="501.5" y2="481.78" stroke="#d6d6d6" stroke-width="0.9"/>
<line x1="230.3" y1="481.78" x2="234.3" y2="481.78" stroke="#8c8c8c" stroke-width="0.8"/>
<line x1="497.5" y1="481.78" x2="501.5" y2="481.78" stroke="#8c8c8c" stroke-width="0.8"/>
<line x1="230.3" y1="476.91" x2="501.5" y2="476.91" stroke="#d6d6d6" stroke-width="0.9"/>
<line x1="230.3" y1="476.91" x2="234.3" y2="476.91" stroke="#8c8c8c" stroke-width="0.8"/>
<line x1="497.5" y1="476.91" x2="501.5" y2="476.91" stroke="#8c8c8c" stroke-width="0.8"/>
<line x1="230.3" y1="472.94" x2="501.5" y2="472.94" stroke="#d6d6d6" stroke-width="0.9"/>
<line x1="230.3" y1="472.94" x2="234.3" y2="472.94" stroke="#8c8c8c" stroke-width="0.8"/>
<line x1="497.5" y1="472.94" x2="501.5" y2="472.94" stroke="#8c8c8c" stroke-width="0.8"/>
<line x1="230.3" y1="469.58" x2="501.5" y2="469.58" stroke="#d6d6d6" stroke-width="0.9"/>
<line x1="230.3" y1="469.58" x2="234.3" y2="469.58" stroke="#8c8c8c" stroke-width="0.8"/>
<line x1="497.5" y1="469.58" x2="501.5" y2="469.58" stroke="#8c8c8c" stroke-width="0.8"/>
<line x1="230.3" y1="466.66" x2="501.5" y2="466.66" stroke="#d6d6d6" stroke-width="0.9"/>
<line x1="230.3" y1="466.66" x2="234.3" y2="466.66" stroke="#8c8c8c" stroke-width="0.8"/>
<line x1="497.5" y1="466.66" x2="501.5" y2="466.66" stroke="#8c8c8c" stroke-width="0.8"/>
<line x1="230.3" y1="464.1" x2="501.5" y2="464.1" stroke="#d6d6d6" stroke-width="0.9"/>
<line x1="230.3" y1="464.1" x2="234.3" y2="464.1" stroke="#8c8c8c" stroke-width="0.8"/>
<line x1="497.5" y1="464.1" x2="501.5" y2="464.1" stroke="#8c8c8c" stroke-width="0.8"/>
<line x1="230.3" y1="461.8" x2="501.5" y2="461.8" stroke="#cacaca" stroke-width="0.9"/>
<line x1="230.3" y1="461.8" x2="235.9" y2="461.8" stroke="#8c8c8c" stroke-width="0.8"/>
<line x1="495.9" y1="461.8" x2="501.5" y2="461.8" stroke="#8c8c8c" stroke-width="0.8"/>
<line x1="230.3" y1="446.69" x2="501.5" y2="446.69" stroke="#d6d6d6" stroke-width="0.9"/>
<line x1="230.3" y1="446.69" x2="234.3" y2="446.69" stroke="#8c8c8c" stroke-width="0.8"/>
<line x1="497.5" y1="446.69" x2="501.5" y2="446.69" stroke="#8c8c8c" stroke-width="0.8"/>
<line x1="230.3" y1="437.85" x2="501.5" y2="437.85" stroke="#d6d6d6" stroke-width="0.9"/>
<line x1="230.3" y1="437.85" x2="234.3" y2="437.85" stroke="#8c8c8c" stroke-width="0.8"/>
<line x1="497.5" y1="437.85" x2="501.5" y2="437.85" stroke="#8c8c8c" stroke-width="0.8"/>
<line x1="230.3" y1="431.58" x2="501.5" y2="431.58" stroke="#d6d6d6" stroke-width="0.9"/>
<line x1="230.3" y1="431.58" x2="234.3" y2="431.58" stroke="#8c8c8c" stroke-width="0.8"/>
<line x1="497.5" y1="431.58" x2="501.5" y2="431.58" stroke="#8c8c8c" stroke-width="0.8"/>
<line x1="230.3" y1="426.71" x2="501.5" y2="426.71" stroke="#d6d6d6" stroke-width="0.9"/>
<line x1="230.3" y1="426.71" x2="234.3" y2="426.71" stroke="#8c8c8c" stroke-width="0.8"/>
<line x1="497.5" y1="426.71" x2="501.5" y2="426.71" stroke="#8c8c8c" stroke-width="0.8"/>
<line x1="230.3" y1="422.74" x2="501.5" y2="422.74" stroke="#d6d6d6" stroke-width="0.9"/>
<line x1="230.3" y1="422.74" x2="234.3" y2="422.74" stroke="#8c8c8c" stroke-width="0.8"/>
<line x1="497.5" y1="422.74" x2="501.5" y2="422.74" stroke="#8c8c8c" stroke-width="0.8"/>
<line x1="230.3" y1="419.38" x2="501.5" y2="419.38" stroke="#d6d6d6" stroke-width="0.9"/>
<line x1="230.3" y1="419.38" x2="234.3" y2="419.38" stroke="#8c8c8c" stroke-width="0.8"/>
<line x1="497.5" y1="419.38" x2="501.5" y2="419.38" stroke="#8c8c8c" stroke-width="0.8"/>
<line x1="230.3" y1="416.46" x2="501.5" y2="416.46" stroke="#d6d6d6" stroke-width="0.9"/>
<line x1="230.3" y1="416.46" x2="234.3" y2="416.46" stroke="#8c8c8c" stroke-width="0.8"/>
<line x1="497.5" y1="416.46" x2="501.5" y2="416.46" stroke="#8c8c8c" stroke-width="0.8"/>
<line x1="230.3" y1="413.9" x2="501.5" y2="413.9" stroke="#d6d6d6" stroke-width="0.9"/>
<line x1="230.3" y1="413.9" x2="234.3" y2="413.9" stroke="#8c8c8c" stroke-width="0.8"/>
<line x1="497.5" y1="413.9" x2="501.5" y2="413.9" stroke="#8c8c8c" stroke-width="0.8"/>
<line x1="230.3" y1="411.6" x2="501.5" y2="411.6" stroke="#cacaca" stroke-width="0.9"/>
<line x1="230.3" y1="411.6" x2="235.9" y2="411.6" stroke="#8c8c8c" stroke-width="0.8"/>
<line x1="495.9" y1="411.6" x2="501.5" y2="411.6" stroke="#8c8c8c" stroke-width="0.8"/>
<line x1="230.3" y1="396.49" x2="501.5" y2="396.49" stroke="#d6d6d6" stroke-width="0.9"/>
<line x1="230.3" y1="396.49" x2="234.3" y2="396.49" stroke="#8c8c8c" stroke-width="0.8"/>
<line x1="497.5" y1="396.49" x2="501.5" y2="396.49" stroke="#8c8c8c" stroke-width="0.8"/>
<line x1="230.3" y1="387.65" x2="501.5" y2="387.65" stroke="#d6d6d6" stroke-width="0.9"/>
<line x1="230.3" y1="387.65" x2="234.3" y2="387.65" stroke="#8c8c8c" stroke-width="0.8"/>
<line x1="497.5" y1="387.65" x2="501.5" y2="387.65" stroke="#8c8c8c" stroke-width="0.8"/>
<line x1="230.3" y1="381.38" x2="501.5" y2="381.38" stroke="#d6d6d6" stroke-width="0.9"/>
<line x1="230.3" y1="381.38" x2="234.3" y2="381.38" stroke="#8c8c8c" stroke-width="0.8"/>
<line x1="497.5" y1="381.38" x2="501.5" y2="381.38" stroke="#8c8c8c" stroke-width="0.8"/>
<line x1="230.3" y1="376.51" x2="501.5" y2="376.51" stroke="#d6d6d6" stroke-width="0.9"/>
<line x1="230.3" y1="376.51" x2="234.3" y2="376.51" stroke="#8c8c8c" stroke-width="0.8"/>
<line x1="497.5" y1="376.51" x2="501.5" y2="376.51" stroke="#8c8c8c" stroke-width="0.8"/>
<line x1="230.3" y1="372.54" x2="501.5" y2="372.54" stroke="#d6d6d6" stroke-width="0.9"/>
<line x1="230.3" y1="372.54" x2="234.3" y2="372.54" stroke="#8c8c8c" stroke-width="0.8"/>
<line x1="497.5" y1="372.54" x2="501.5" y2="372.54" stroke="#8c8c8c" stroke-width="0.8"/>
<line x1="230.3" y1="369.18" x2="501.5" y2="369.18" stroke="#d6d6d6" stroke-width="0.9"/>
<line x1="230.3" y1="369.18" x2="234.3" y2="369.18" stroke="#8c8c8c" stroke-width="0.8"/>
<line x1="497.5" y1="369.18" x2="501.5" y2="369.18" stroke="#8c8c8c" stroke-width="0.8"/>
<line x1="230.3" y1="366.26" x2="501.5" y2="366.26" stroke="#d6d6d6" stroke-width="0.9"/>
<line x1="230.3" y1="366.26" x2="234.3" y2="366.26" stroke="#8c8c8c" stroke-width="0.8"/>
<line x1="497.5" y1="366.26" x2="501.5" y2="366.26" stroke="#8c8c8c" stroke-width="0.8"/>
<line x1="230.3" y1="363.7" x2="501.5" y2="363.7" stroke="#d6d6d6" stroke-width="0.9"/>
<line x1="230.3" y1="363.7" x2="234.3" y2="363.7" stroke="#8c8c8c" stroke-width="0.8"/>
<line x1="497.5" y1="363.7" x2="501.5" y2="363.7" stroke="#8c8c8c" stroke-width="0.8"/>
<line x1="230.3" y1="361.4" x2="501.5" y2="361.4" stroke="#cacaca" stroke-width="0.9"/>
<line x1="230.3" y1="361.4" x2="235.9" y2="361.4" stroke="#8c8c8c" stroke-width="0.8"/>
<line x1="495.9" y1="361.4" x2="501.5" y2="361.4" stroke="#8c8c8c" stroke-width="0.8"/>
<line x1="230.3" y1="346.29" x2="501.5" y2="346.29" stroke="#d6d6d6" stroke-width="0.9"/>
<line x1="230.3" y1="346.29" x2="234.3" y2="346.29" stroke="#8c8c8c" stroke-width="0.8"/>
<line x1="497.5" y1="346.29" x2="501.5" y2="346.29" stroke="#8c8c8c" stroke-width="0.8"/>
<line x1="230.3" y1="337.45" x2="501.5" y2="337.45" stroke="#d6d6d6" stroke-width="0.9"/>
<line x1="230.3" y1="337.45" x2="234.3" y2="337.45" stroke="#8c8c8c" stroke-width="0.8"/>
<line x1="497.5" y1="337.45" x2="501.5" y2="337.45" stroke="#8c8c8c" stroke-width="0.8"/>
<line x1="230.3" y1="331.18" x2="501.5" y2="331.18" stroke="#d6d6d6" stroke-width="0.9"/>
<line x1="230.3" y1="331.18" x2="234.3" y2="331.18" stroke="#8c8c8c" stroke-width="0.8"/>
<line x1="497.5" y1="331.18" x2="501.5" y2="331.18" stroke="#8c8c8c" stroke-width="0.8"/>
<line x1="230.3" y1="326.31" x2="501.5" y2="326.31" stroke="#d6d6d6" stroke-width="0.9"/>
<line x1="230.3" y1="326.31" x2="234.3" y2="326.31" stroke="#8c8c8c" stroke-width="0.8"/>
<line x1="497.5" y1="326.31" x2="501.5" y2="326.31" stroke="#8c8c8c" stroke-width="0.8"/>
<line x1="230.3" y1="322.34" x2="501.5" y2="322.34" stroke="#d6d6d6" stroke-width="0.9"/>
<line x1="230.3" y1="322.34" x2="234.3" y2="322.34" stroke="#8c8c8c" stroke-width="0.8"/>
<line x1="497.5" y1="322.34" x2="501.5" y2="322.34" stroke="#8c8c8c" stroke-width="0.8"/>
<line x1="230.3" y1="318.98" x2="501.5" y2="318.98" stroke="#d6d6d6" stroke-width="0.9"/>
<line x1="230.3" y1="318.98" x2="234.3" y2="318.98" stroke="#8c8c8c" stroke-width="0.8"/>
<line x1="497.5" y1="318.98" x2="501.5" y2="318.98" stroke="#8c8c8c" stroke-width="0.8"/>
<line x1="230.3" y1="316.06" x2="501.5" y2="316.06" stroke="#d6d6d6" stroke-width="0.9"/>
<line x1="230.3" y1="316.06" x2="234.3" y2="316.06" stroke="#8c8c8c" stroke-width="0.8"/>
<line x1="497.5" y1="316.06" x2="501.5" y2="316.06" stroke="#8c8c8c" stroke-width="0.8"/>
<line x1="230.3" y1="313.5" x2="501.5" y2="313.5" stroke="#d6d6d6" stroke-width="0.9"/>
<line x1="230.3" y1="313.5" x2="234.3" y2="313.5" stroke="#8c8c8c" stroke-width="0.8"/>
<line x1="497.5" y1="313.5" x2="501.5" y2="313.5" stroke="#8c8c8c" stroke-width="0.8"/>
<line x1="230.3" y1="311.2" x2="501.5" y2="311.2" stroke="#cacaca" stroke-width="0.9"/>
<line x1="230.3" y1="311.2" x2="235.9" y2="311.2" stroke="#8c8c8c" stroke-width="0.8"/>
<line x1="495.9" y1="311.2" x2="501.5" y2="311.2" stroke="#8c8c8c" stroke-width="0.8"/>
<line x1="264.2" y1="517" x2="264.2" y2="511.4" stroke="#8c8c8c" stroke-width="0.8"/>
<line x1="264.2" y1="292.3" x2="264.2" y2="297.9" stroke="#8c8c8c" stroke-width="0.8"/>
<line x1="298.1" y1="517" x2="298.1" y2="511.4" stroke="#8c8c8c" stroke-width="0.8"/>
<line x1="298.1" y1="292.3" x2="298.1" y2="297.9" stroke="#8c8c8c" stroke-width="0.8"/>
<line x1="332" y1="517" x2="332" y2="511.4" stroke="#8c8c8c" stroke-width="0.8"/>
<line x1="332" y1="292.3" x2="332" y2="297.9" stroke="#8c8c8c" stroke-width="0.8"/>
<line x1="365.9" y1="517" x2="365.9" y2="511.4" stroke="#8c8c8c" stroke-width="0.8"/>
<line x1="365.9" y1="292.3" x2="365.9" y2="297.9" stroke="#8c8c8c" stroke-width="0.8"/>
<line x1="399.8" y1="517" x2="399.8" y2="511.4" stroke="#8c8c8c" stroke-width="0.8"/>
<line x1="399.8" y1="292.3" x2="399.8" y2="297.9" stroke="#8c8c8c" stroke-width="0.8"/>
<line x1="433.7" y1="517" x2="433.7" y2="511.4" stroke="#8c8c8c" stroke-width="0.8"/>
<line x1="433.7" y1="292.3" x2="433.7" y2="297.9" stroke="#8c8c8c" stroke-width="0.8"/>
<line x1="467.6" y1="517" x2="467.6" y2="511.4" stroke="#8c8c8c" stroke-width="0.8"/>
<line x1="467.6" y1="292.3" x2="467.6" y2="297.9" stroke="#8c8c8c" stroke-width="0.8"/>
<polyline clip-path="url(#cpc)" points="230.3,311.2 264.2,311.2 298.1,311.2 332,311.2 365.9,311.2 399.8,311.2 433.7,312.32 467.6,346.29 501.5,414.81" fill="none" stroke="#2020ff" stroke-width="0.85"/>
<circle cx="230.3" cy="311.2" r="2.9" fill="#0000d8" stroke="#0000ff" stroke-width="0.6"/><circle cx="264.2" cy="311.2" r="2.9" fill="#0000d8" stroke="#0000ff" stroke-width="0.6"/><circle cx="298.1" cy="311.2" r="2.9" fill="#0000d8" stroke="#0000ff" stroke-width="0.6"/><circle cx="332" cy="311.2" r="2.9" fill="#0000d8" stroke="#0000ff" stroke-width="0.6"/><circle cx="365.9" cy="311.2" r="2.9" fill="#0000d8" stroke="#0000ff" stroke-width="0.6"/><circle cx="399.8" cy="311.2" r="2.9" fill="#0000d8" stroke="#0000ff" stroke-width="0.6"/><circle cx="433.7" cy="312.32" r="2.9" fill="#0000d8" stroke="#0000ff" stroke-width="0.6"/><circle cx="467.6" cy="346.29" r="2.9" fill="#0000d8" stroke="#0000ff" stroke-width="0.6"/><circle cx="501.5" cy="414.81" r="2.9" fill="#0000d8" stroke="#0000ff" stroke-width="0.6"/>
<polyline clip-path="url(#cpc)" points="230.3,311.2 264.2,311.2 298.1,311.2 332,311.37 365.9,311.53 399.8,311.53 433.7,311.71 467.6,349.96 501.5,417.99" fill="none" stroke="#ff1010" stroke-width="0.85"/>
<rect x="227.4" y="308.3" width="5.8" height="5.8" fill="#d80000" stroke="#ff0000" stroke-width="0.6"/><rect x="261.3" y="308.3" width="5.8" height="5.8" fill="#d80000" stroke="#ff0000" stroke-width="0.6"/><rect x="295.2" y="308.3" width="5.8" height="5.8" fill="#d80000" stroke="#ff0000" stroke-width="0.6"/><rect x="329.1" y="308.47" width="5.8" height="5.8" fill="#d80000" stroke="#ff0000" stroke-width="0.6"/><rect x="363" y="308.63" width="5.8" height="5.8" fill="#d80000" stroke="#ff0000" stroke-width="0.6"/><rect x="396.9" y="308.63" width="5.8" height="5.8" fill="#d80000" stroke="#ff0000" stroke-width="0.6"/><rect x="430.8" y="308.81" width="5.8" height="5.8" fill="#d80000" stroke="#ff0000" stroke-width="0.6"/><rect x="464.7" y="347.06" width="5.8" height="5.8" fill="#d80000" stroke="#ff0000" stroke-width="0.6"/><rect x="498.6" y="415.09" width="5.8" height="5.8" fill="#d80000" stroke="#ff0000" stroke-width="0.6"/>
<polyline clip-path="url(#cpc)" points="230.3,311.2 264.2,311.2 298.1,311.2 332,311.53 365.9,311.85 399.8,311.85 433.7,312.78 467.6,355.85 501.5,421.3" fill="none" stroke="#a87040" stroke-width="0.85"/>
<circle cx="230.3" cy="311.2" r="2.9" fill="#9a6633" stroke="#8a5a2a" stroke-width="0.6"/><circle cx="264.2" cy="311.2" r="2.9" fill="#9a6633" stroke="#8a5a2a" stroke-width="0.6"/><circle cx="298.1" cy="311.2" r="2.9" fill="#9a6633" stroke="#8a5a2a" stroke-width="0.6"/><circle cx="332" cy="311.53" r="2.9" fill="#9a6633" stroke="#8a5a2a" stroke-width="0.6"/><circle cx="365.9" cy="311.85" r="2.9" fill="#9a6633" stroke="#8a5a2a" stroke-width="0.6"/><circle cx="399.8" cy="311.85" r="2.9" fill="#9a6633" stroke="#8a5a2a" stroke-width="0.6"/><circle cx="433.7" cy="312.78" r="2.9" fill="#9a6633" stroke="#8a5a2a" stroke-width="0.6"/><circle cx="467.6" cy="355.85" r="2.9" fill="#9a6633" stroke="#8a5a2a" stroke-width="0.6"/><circle cx="501.5" cy="421.3" r="2.9" fill="#9a6633" stroke="#8a5a2a" stroke-width="0.6"/>
<polyline clip-path="url(#cpc)" points="230.3,311.2 264.2,311.2 298.1,311.2 332,311.7 365.9,312.18 399.8,312.18 433.7,312.9 467.6,357.98 501.5,422.99" fill="none" stroke="#202020" stroke-width="0.85"/>
<path d="M230.3 311.2L230.3 308.3M230.3 311.2L227.54 310.3M230.3 311.2L228.6 313.55M230.3 311.2L232 313.55M230.3 311.2L233.06 310.3" stroke="#000" stroke-width="0.9" fill="none"/><path d="M264.2 311.2L264.2 308.3M264.2 311.2L261.44 310.3M264.2 311.2L262.5 313.55M264.2 311.2L265.9 313.55M264.2 311.2L266.96 310.3" stroke="#000" stroke-width="0.9" fill="none"/><path d="M298.1 311.2L298.1 308.3M298.1 311.2L295.34 310.3M298.1 311.2L296.4 313.55M298.1 311.2L299.8 313.55M298.1 311.2L300.86 310.3" stroke="#000" stroke-width="0.9" fill="none"/><path d="M332 311.7L332 308.8M332 311.7L329.24 310.81M332 311.7L330.3 314.05M332 311.7L333.7 314.05M332 311.7L334.76 310.81" stroke="#000" stroke-width="0.9" fill="none"/><path d="M365.9 312.18L365.9 309.28M365.9 312.18L363.14 311.28M365.9 312.18L364.2 314.52M365.9 312.18L367.6 314.52M365.9 312.18L368.66 311.28" stroke="#000" stroke-width="0.9" fill="none"/><path d="M399.8 312.18L399.8 309.28M399.8 312.18L397.04 311.28M399.8 312.18L398.1 314.52M399.8 312.18L401.5 314.52M399.8 312.18L402.56 311.28" stroke="#000" stroke-width="0.9" fill="none"/><path d="M433.7 312.9L433.7 310M433.7 312.9L430.94 312M433.7 312.9L432 315.25M433.7 312.9L435.4 315.25M433.7 312.9L436.46 312" stroke="#000" stroke-width="0.9" fill="none"/><path d="M467.6 357.98L467.6 355.08M467.6 357.98L464.84 357.08M467.6 357.98L465.9 360.32M467.6 357.98L469.3 360.32M467.6 357.98L470.36 357.08" stroke="#000" stroke-width="0.9" fill="none"/><path d="M501.5 422.99L501.5 420.09M501.5 422.99L498.74 422.1M501.5 422.99L499.8 425.34M501.5 422.99L503.2 425.34M501.5 422.99L504.26 422.1" stroke="#000" stroke-width="0.9" fill="none"/>
<polyline clip-path="url(#cpc)" points="230.3,311.2 264.2,311.2 298.1,311.2 332,311.87 365.9,312.5 399.8,312.5 433.7,313.99 467.6,361.4 501.5,433.22" fill="none" stroke="#2020ff" stroke-width="0.85"/>
<path d="M230.3 308.1L232.6 311.2L230.3 314.3L228 311.2Z" fill="#0000d8" stroke="#0000ff" stroke-width="0.5"/><path d="M264.2 308.1L266.5 311.2L264.2 314.3L261.9 311.2Z" fill="#0000d8" stroke="#0000ff" stroke-width="0.5"/><path d="M298.1 308.1L300.4 311.2L298.1 314.3L295.8 311.2Z" fill="#0000d8" stroke="#0000ff" stroke-width="0.5"/><path d="M332 308.77L334.3 311.87L332 314.97L329.7 311.87Z" fill="#0000d8" stroke="#0000ff" stroke-width="0.5"/><path d="M365.9 309.4L368.2 312.5L365.9 315.6L363.6 312.5Z" fill="#0000d8" stroke="#0000ff" stroke-width="0.5"/><path d="M399.8 309.4L402.1 312.5L399.8 315.6L397.5 312.5Z" fill="#0000d8" stroke="#0000ff" stroke-width="0.5"/><path d="M433.7 310.89L436 313.99L433.7 317.09L431.4 313.99Z" fill="#0000d8" stroke="#0000ff" stroke-width="0.5"/><path d="M467.6 358.3L469.9 361.4L467.6 364.5L465.3 361.4Z" fill="#0000d8" stroke="#0000ff" stroke-width="0.5"/><path d="M501.5 430.12L503.8 433.22L501.5 436.32L499.2 433.22Z" fill="#0000d8" stroke="#0000ff" stroke-width="0.5"/>
<polyline clip-path="url(#cpc)" points="230.3,311.2 264.2,311.2 298.1,311.2 332,312.04 365.9,312.83 399.8,312.83 433.7,314.74 467.6,364.51 501.5,444.61" fill="none" stroke="#ff1010" stroke-width="0.85" stroke-dasharray="3.5 3.1"/>
<circle cx="230.3" cy="311.2" r="2.9" fill="#e00000" stroke="#ff0000" stroke-width="0.6"/><circle cx="264.2" cy="311.2" r="2.9" fill="#e00000" stroke="#ff0000" stroke-width="0.6"/><circle cx="298.1" cy="311.2" r="2.9" fill="#e00000" stroke="#ff0000" stroke-width="0.6"/><circle cx="332" cy="312.04" r="2.9" fill="#e00000" stroke="#ff0000" stroke-width="0.6"/><circle cx="365.9" cy="312.83" r="2.9" fill="#e00000" stroke="#ff0000" stroke-width="0.6"/><circle cx="399.8" cy="312.83" r="2.9" fill="#e00000" stroke="#ff0000" stroke-width="0.6"/><circle cx="433.7" cy="314.74" r="2.9" fill="#e00000" stroke="#ff0000" stroke-width="0.6"/><circle cx="467.6" cy="364.51" r="2.9" fill="#e00000" stroke="#ff0000" stroke-width="0.6"/><circle cx="501.5" cy="444.61" r="2.9" fill="#e00000" stroke="#ff0000" stroke-width="0.6"/>
<polyline clip-path="url(#cpc)" points="230.3,311.2 264.2,311.2 298.1,311.2 332,312.2 365.9,313.15 399.8,313.15 433.7,315.9 467.6,367.21 501.5,456.08" fill="none" stroke="#a87040" stroke-width="0.85" stroke-dasharray="3.5 3.1"/>
<rect x="227.4" y="308.3" width="5.8" height="5.8" fill="#9a6633" stroke="#7a4a1a" stroke-width="0.6"/><rect x="261.3" y="308.3" width="5.8" height="5.8" fill="#9a6633" stroke="#7a4a1a" stroke-width="0.6"/><rect x="295.2" y="308.3" width="5.8" height="5.8" fill="#9a6633" stroke="#7a4a1a" stroke-width="0.6"/><rect x="329.1" y="309.3" width="5.8" height="5.8" fill="#9a6633" stroke="#7a4a1a" stroke-width="0.6"/><rect x="363" y="310.25" width="5.8" height="5.8" fill="#9a6633" stroke="#7a4a1a" stroke-width="0.6"/><rect x="396.9" y="310.25" width="5.8" height="5.8" fill="#9a6633" stroke="#7a4a1a" stroke-width="0.6"/><rect x="430.8" y="313" width="5.8" height="5.8" fill="#9a6633" stroke="#7a4a1a" stroke-width="0.6"/><rect x="464.7" y="364.31" width="5.8" height="5.8" fill="#9a6633" stroke="#7a4a1a" stroke-width="0.6"/><rect x="498.6" y="453.18" width="5.8" height="5.8" fill="#9a6633" stroke="#7a4a1a" stroke-width="0.6"/>
<polyline clip-path="url(#cpc)" points="230.3,311.2 264.2,311.2 298.1,311.2 332,312.37 365.9,313.48 399.8,313.48 433.7,319.7 467.6,370.96 501.5,462.69" fill="none" stroke="#202020" stroke-width="0.85" stroke-dasharray="3.5 3.1"/>
<circle cx="230.3" cy="311.2" r="2.4" fill="#c8c8c8" stroke="#000" stroke-width="1.1"/><path d="M228.5 309.4L232.1 313M228.5 313L232.1 309.4" stroke="#000" stroke-width="0.9"/><circle cx="264.2" cy="311.2" r="2.4" fill="#c8c8c8" stroke="#000" stroke-width="1.1"/><path d="M262.4 309.4L266 313M262.4 313L266 309.4" stroke="#000" stroke-width="0.9"/><circle cx="298.1" cy="311.2" r="2.4" fill="#c8c8c8" stroke="#000" stroke-width="1.1"/><path d="M296.3 309.4L299.9 313M296.3 313L299.9 309.4" stroke="#000" stroke-width="0.9"/><circle cx="332" cy="312.37" r="2.4" fill="#c8c8c8" stroke="#000" stroke-width="1.1"/><path d="M330.2 310.57L333.8 314.17M330.2 314.17L333.8 310.57" stroke="#000" stroke-width="0.9"/><circle cx="365.9" cy="313.48" r="2.4" fill="#c8c8c8" stroke="#000" stroke-width="1.1"/><path d="M364.1 311.68L367.7 315.28M364.1 315.28L367.7 311.68" stroke="#000" stroke-width="0.9"/><circle cx="399.8" cy="313.48" r="2.4" fill="#c8c8c8" stroke="#000" stroke-width="1.1"/><path d="M398 311.68L401.6 315.28M398 315.28L401.6 311.68" stroke="#000" stroke-width="0.9"/><circle cx="433.7" cy="319.7" r="2.4" fill="#c8c8c8" stroke="#000" stroke-width="1.1"/><path d="M431.9 317.91L435.5 321.5M431.9 321.5L435.5 317.91" stroke="#000" stroke-width="0.9"/><circle cx="467.6" cy="370.96" r="2.4" fill="#c8c8c8" stroke="#000" stroke-width="1.1"/><path d="M465.8 369.16L469.4 372.76M465.8 372.76L469.4 369.16" stroke="#000" stroke-width="0.9"/><circle cx="501.5" cy="462.69" r="2.4" fill="#c8c8c8" stroke="#000" stroke-width="1.1"/><path d="M499.7 460.89L503.3 464.49M499.7 464.49L503.3 460.89" stroke="#000" stroke-width="0.9"/>
<polyline clip-path="url(#cpc)" points="230.3,311.2 264.2,311.2 298.1,311.2 332,312.54 365.9,313.8 399.8,313.8 433.7,321 467.6,380.84 501.5,472.22" fill="none" stroke="#2020ff" stroke-width="0.85" stroke-dasharray="3.5 3.1"/>
<path d="M230.3 311.2L230.3 308.3M230.3 311.2L227.54 310.3M230.3 311.2L228.6 313.55M230.3 311.2L232 313.55M230.3 311.2L233.06 310.3" stroke="#0000ff" stroke-width="0.9" fill="none"/><path d="M264.2 311.2L264.2 308.3M264.2 311.2L261.44 310.3M264.2 311.2L262.5 313.55M264.2 311.2L265.9 313.55M264.2 311.2L266.96 310.3" stroke="#0000ff" stroke-width="0.9" fill="none"/><path d="M298.1 311.2L298.1 308.3M298.1 311.2L295.34 310.3M298.1 311.2L296.4 313.55M298.1 311.2L299.8 313.55M298.1 311.2L300.86 310.3" stroke="#0000ff" stroke-width="0.9" fill="none"/><path d="M332 312.54L332 309.64M332 312.54L329.24 311.64M332 312.54L330.3 314.88M332 312.54L333.7 314.88M332 312.54L334.76 311.64" stroke="#0000ff" stroke-width="0.9" fill="none"/><path d="M365.9 313.8L365.9 310.9M365.9 313.8L363.14 312.91M365.9 313.8L364.2 316.15M365.9 313.8L367.6 316.15M365.9 313.8L368.66 312.91" stroke="#0000ff" stroke-width="0.9" fill="none"/><path d="M399.8 313.8L399.8 310.9M399.8 313.8L397.04 312.91M399.8 313.8L398.1 316.15M399.8 313.8L401.5 316.15M399.8 313.8L402.56 312.91" stroke="#0000ff" stroke-width="0.9" fill="none"/><path d="M433.7 321L433.7 318.1M433.7 321L430.94 320.1M433.7 321L432 323.34M433.7 321L435.4 323.34M433.7 321L436.46 320.1" stroke="#0000ff" stroke-width="0.9" fill="none"/><path d="M467.6 380.84L467.6 377.94M467.6 380.84L464.84 379.94M467.6 380.84L465.9 383.18M467.6 380.84L469.3 383.18M467.6 380.84L470.36 379.94" stroke="#0000ff" stroke-width="0.9" fill="none"/><path d="M501.5 472.22L501.5 469.32M501.5 472.22L498.74 471.33M501.5 472.22L499.8 474.57M501.5 472.22L503.2 474.57M501.5 472.22L504.26 471.33" stroke="#0000ff" stroke-width="0.9" fill="none"/>
<polyline clip-path="url(#cpc)" points="230.3,311.2 264.2,311.2 298.1,311.2 332,312.71 365.9,314.13 399.8,314.13 433.7,324.8 467.6,395.84 501.5,477.8" fill="none" stroke="#ff1010" stroke-width="0.85" stroke-dasharray="3.5 3.1"/>
<path d="M230.3 308.1L232.6 311.2L230.3 314.3L228 311.2Z" fill="#e00000" stroke="#ff0000" stroke-width="0.5"/><path d="M264.2 308.1L266.5 311.2L264.2 314.3L261.9 311.2Z" fill="#e00000" stroke="#ff0000" stroke-width="0.5"/><path d="M298.1 308.1L300.4 311.2L298.1 314.3L295.8 311.2Z" fill="#e00000" stroke="#ff0000" stroke-width="0.5"/><path d="M332 309.61L334.3 312.71L332 315.81L329.7 312.71Z" fill="#e00000" stroke="#ff0000" stroke-width="0.5"/><path d="M365.9 311.03L368.2 314.13L365.9 317.23L363.6 314.13Z" fill="#e00000" stroke="#ff0000" stroke-width="0.5"/><path d="M399.8 311.03L402.1 314.13L399.8 317.23L397.5 314.13Z" fill="#e00000" stroke="#ff0000" stroke-width="0.5"/><path d="M433.7 321.7L436 324.8L433.7 327.9L431.4 324.8Z" fill="#e00000" stroke="#ff0000" stroke-width="0.5"/><path d="M467.6 392.74L469.9 395.84L467.6 398.94L465.3 395.84Z" fill="#e00000" stroke="#ff0000" stroke-width="0.5"/><path d="M501.5 474.7L503.8 477.8L501.5 480.9L499.2 477.8Z" fill="#e00000" stroke="#ff0000" stroke-width="0.5"/>
<polyline clip-path="url(#cpc)" points="230.3,311.2 264.2,311.2 298.1,311.2 332,312.87 365.9,314.45 399.8,314.45 433.7,326.89 467.6,410.54 501.5,482.89" fill="none" stroke="#2020ff" stroke-width="0.85"/>
<path d="M230.3 308.2L232.9 312.7L227.7 312.7Z" fill="#fff" stroke="#0000ff" stroke-width="0.9"/><path d="M264.2 308.2L266.8 312.7L261.6 312.7Z" fill="#fff" stroke="#0000ff" stroke-width="0.9"/><path d="M298.1 308.2L300.7 312.7L295.5 312.7Z" fill="#fff" stroke="#0000ff" stroke-width="0.9"/><path d="M332 309.87L334.6 314.37L329.4 314.37Z" fill="#fff" stroke="#0000ff" stroke-width="0.9"/><path d="M365.9 311.45L368.5 315.95L363.3 315.95Z" fill="#fff" stroke="#0000ff" stroke-width="0.9"/><path d="M399.8 311.45L402.4 315.95L397.2 315.95Z" fill="#fff" stroke="#0000ff" stroke-width="0.9"/><path d="M433.7 323.89L436.3 328.39L431.1 328.39Z" fill="#fff" stroke="#0000ff" stroke-width="0.9"/><path d="M467.6 407.54L470.2 412.04L465 412.04Z" fill="#fff" stroke="#0000ff" stroke-width="0.9"/><path d="M501.5 479.89L504.1 484.39L498.9 484.39Z" fill="#fff" stroke="#0000ff" stroke-width="0.9"/>
<polyline clip-path="url(#cpc)" points="230.3,311.2 264.2,311.2 298.1,311.2 332,313.04 365.9,314.78 399.8,314.78 433.7,329 467.6,411.38 501.5,487.69" fill="none" stroke="#ff1010" stroke-width="0.85"/>
<path d="M230.3 314.1L230.3 308.3M232.81 312.65L227.79 309.75M232.81 309.75L227.79 312.65" stroke="#ff0000" stroke-width="1.3" fill="none"/><path d="M264.2 314.1L264.2 308.3M266.71 312.65L261.69 309.75M266.71 309.75L261.69 312.65" stroke="#ff0000" stroke-width="1.3" fill="none"/><path d="M298.1 314.1L298.1 308.3M300.61 312.65L295.59 309.75M300.61 309.75L295.59 312.65" stroke="#ff0000" stroke-width="1.3" fill="none"/><path d="M332 315.94L332 310.14M334.51 314.49L329.49 311.59M334.51 311.59L329.49 314.49" stroke="#ff0000" stroke-width="1.3" fill="none"/><path d="M365.9 317.68L365.9 311.88M368.41 316.23L363.39 313.33M368.41 313.33L363.39 316.23" stroke="#ff0000" stroke-width="1.3" fill="none"/><path d="M399.8 317.68L399.8 311.88M402.31 316.23L397.29 313.33M402.31 313.33L397.29 316.23" stroke="#ff0000" stroke-width="1.3" fill="none"/><path d="M433.7 331.9L433.7 326.1M436.21 330.45L431.19 327.55M436.21 327.55L431.19 330.45" stroke="#ff0000" stroke-width="1.3" fill="none"/><path d="M467.6 414.28L467.6 408.48M470.11 412.83L465.09 409.93M470.11 409.93L465.09 412.83" stroke="#ff0000" stroke-width="1.3" fill="none"/><path d="M501.5 490.59L501.5 484.79M504.01 489.14L498.99 486.24M504.01 486.24L498.99 489.14" stroke="#ff0000" stroke-width="1.3" fill="none"/>
<polyline clip-path="url(#cpc)" points="230.3,311.2 264.2,311.2 298.1,311.2 332,313.21 365.9,315.11 399.8,315.11 433.7,332.41 467.6,415.14 501.5,498.71" fill="none" stroke="#a87040" stroke-width="0.85"/>
<path d="M230.3 308.1L227.35 310.24L228.48 313.71L232.12 313.71L233.25 310.24Z" fill="#9a6633" stroke="#8a5a2a" stroke-width="0.5"/><path d="M264.2 308.1L261.25 310.24L262.38 313.71L266.02 313.71L267.15 310.24Z" fill="#9a6633" stroke="#8a5a2a" stroke-width="0.5"/><path d="M298.1 308.1L295.15 310.24L296.28 313.71L299.92 313.71L301.05 310.24Z" fill="#9a6633" stroke="#8a5a2a" stroke-width="0.5"/><path d="M332 310.11L329.05 312.25L330.18 315.72L333.82 315.72L334.95 312.25Z" fill="#9a6633" stroke="#8a5a2a" stroke-width="0.5"/><path d="M365.9 312.01L362.95 314.15L364.08 317.61L367.72 317.61L368.85 314.15Z" fill="#9a6633" stroke="#8a5a2a" stroke-width="0.5"/><path d="M399.8 312.01L396.85 314.15L397.98 317.61L401.62 317.61L402.75 314.15Z" fill="#9a6633" stroke="#8a5a2a" stroke-width="0.5"/><path d="M433.7 329.31L430.75 331.45L431.88 334.92L435.52 334.92L436.65 331.45Z" fill="#9a6633" stroke="#8a5a2a" stroke-width="0.5"/><path d="M467.6 412.04L464.65 414.19L465.78 417.65L469.42 417.65L470.55 414.19Z" fill="#9a6633" stroke="#8a5a2a" stroke-width="0.5"/><path d="M501.5 495.61L498.55 497.75L499.68 501.21L503.32 501.21L504.45 497.75Z" fill="#9a6633" stroke="#8a5a2a" stroke-width="0.5"/>
<rect x="230.3" y="292.3" width="271.2" height="224.7" fill="none" stroke="#3a3a3a" stroke-width="1.1"/>
<rect x="233.8" y="348.4" width="166.3" height="167.6" fill="#fff" stroke="#2a2a2a" stroke-width="0.9"/>
<line x1="238" y1="357.5" x2="261.6" y2="357.5" stroke="#0000ff" stroke-width="0.9"/>
<circle cx="249.8" cy="357.5" r="2.9" fill="#0000d8" stroke="#0000ff" stroke-width="0.6"/>
<text transform="translate(330,359.5) scale(1.16,1)" text-anchor="middle" textLength="61.29" lengthAdjust="spacing" class="lg">polar SC decoder</text>
<line x1="238" y1="369.98" x2="261.6" y2="369.98" stroke="#ff7070" stroke-width="1.3"/>
<rect x="246.9" y="367.08" width="5.8" height="5.8" fill="#d80000" stroke="#ff0000" stroke-width="0.6"/>
<text transform="translate(330,371.98) scale(1.16,1)" text-anchor="middle" textLength="50.34" lengthAdjust="spacing" class="lg">ESBP decoder</text>
<line x1="238" y1="382.45" x2="261.6" y2="382.45" stroke="#a06838" stroke-width="0.9"/>
<circle cx="249.8" cy="382.45" r="2.9" fill="#9a6633" stroke="#8a5a2a" stroke-width="0.6"/>
<text transform="translate(330,384.45) scale(1.16,1)" text-anchor="middle" textLength="85.69" lengthAdjust="spacing" class="lg">Bi-LSTM based decoder</text>
<line x1="238" y1="394.93" x2="261.6" y2="394.93" stroke="#8a8a8a" stroke-width="1.4"/>
<path d="M249.8 394.93L249.8 392.03M249.8 394.93L247.04 394.03M249.8 394.93L248.1 397.27M249.8 394.93L251.5 397.27M249.8 394.93L252.56 394.03" stroke="#000" stroke-width="0.9" fill="none"/>
<text transform="translate(330,396.93) scale(1.16,1)" text-anchor="middle" textLength="62.84" lengthAdjust="spacing" class="lg">polar BP decoder</text>
<line x1="238" y1="407.4" x2="261.6" y2="407.4" stroke="#0000ff" stroke-width="0.9"/>
<path d="M249.8 404.3L252.1 407.4L249.8 410.5L247.5 407.4Z" fill="#0000d8" stroke="#0000ff" stroke-width="0.5"/>
<text transform="translate(330,409.4) scale(1.16,1)" text-anchor="middle" textLength="73.02" lengthAdjust="spacing" class="lg">polar SCAN decoder</text>
<line x1="238" y1="419.88" x2="261.6" y2="419.88" stroke="#ff8c8c" stroke-width="1.4" stroke-dasharray="3.6 3.2"/>
<circle cx="249.8" cy="419.88" r="2.9" fill="#e00000" stroke="#ff0000" stroke-width="0.6"/>
<text transform="translate(330,421.88) scale(1.16,1)" text-anchor="middle" textLength="66.21" lengthAdjust="spacing" class="lg">polar SSC decoder</text>
<line x1="238" y1="432.35" x2="261.6" y2="432.35" stroke="#a06838" stroke-width="0.9" stroke-dasharray="3.6 3.2"/>
<rect x="246.9" y="429.45" width="5.8" height="5.8" fill="#9a6633" stroke="#7a4a1a" stroke-width="0.6"/>
<text transform="translate(330,434.35) scale(1.16,1)" text-anchor="middle" textLength="66.47" lengthAdjust="spacing" class="lg">polar SCL decoder</text>
<line x1="238" y1="444.82" x2="261.6" y2="444.82" stroke="#505050" stroke-width="1.2" stroke-dasharray="3.6 3.2"/>
<circle cx="249.8" cy="444.82" r="2.4" fill="#c8c8c8" stroke="#000" stroke-width="1.1"/><path d="M248 443.03L251.6 446.62M248 446.62L251.6 443.03" stroke="#000" stroke-width="0.9"/>
<text transform="translate(330,446.82) scale(1.16,1)" text-anchor="middle" textLength="110.43" lengthAdjust="spacing" class="lg">polar SCL decoder with TLBO</text>
<line x1="238" y1="457.3" x2="261.6" y2="457.3" stroke="#0000ff" stroke-width="0.9" stroke-dasharray="3.6 3.2"/>
<path d="M249.8 457.3L249.8 454.4M249.8 457.3L247.04 456.4M249.8 457.3L248.1 459.65M249.8 457.3L251.5 459.65M249.8 457.3L252.56 456.4" stroke="#0000ff" stroke-width="0.9" fill="none"/>
<text transform="translate(330,459.3) scale(1.16,1)" text-anchor="middle" textLength="110.43" lengthAdjust="spacing" class="lg">polar SCL decoder with SARO</text>
<line x1="238" y1="469.77" x2="261.6" y2="469.77" stroke="#ff5050" stroke-width="0.9" stroke-dasharray="3.6 3.2"/>
<path d="M249.8 466.67L252.1 469.77L249.8 472.88L247.5 469.77Z" fill="#e00000" stroke="#ff0000" stroke-width="0.5"/>
<text transform="translate(330,471.77) scale(1.16,1)" text-anchor="middle" textLength="104.83" lengthAdjust="spacing" class="lg">polar SCL decoder with LBR</text>
<line x1="238" y1="482.25" x2="261.6" y2="482.25" stroke="#0000ff" stroke-width="0.9"/>
<path d="M249.8 479.25L252.4 483.75L247.2 483.75Z" fill="#fff" stroke="#0000ff" stroke-width="0.9"/>
<text transform="translate(330,484.25) scale(1.16,1)" text-anchor="middle" textLength="107.33" lengthAdjust="spacing" class="lg">RNN-based decoder with BES</text>
<line x1="238" y1="494.73" x2="261.6" y2="494.73" stroke="#ff0000" stroke-width="0.9"/>
<path d="M249.8 497.62L249.8 491.83M252.31 496.18L247.29 493.28M252.31 493.28L247.29 496.18" stroke="#ff0000" stroke-width="1.3" fill="none"/>
<text transform="translate(330,496.73) scale(1.16,1)" text-anchor="middle" textLength="109.31" lengthAdjust="spacing" class="lg">RNN-based decoder with HHA</text>
<line x1="238" y1="507.2" x2="261.6" y2="507.2" stroke="#b08860" stroke-width="1.2"/>
<path d="M249.8 504.1L246.85 506.24L247.98 509.71L251.62 509.71L252.75 506.24Z" fill="#9a6633" stroke="#8a5a2a" stroke-width="0.5"/>
<text transform="translate(330,509.2) scale(1.16,1)" text-anchor="middle" textLength="109.31" lengthAdjust="spacing" class="lg">RNN-based decoder with BHO</text>
<text x="52.6" y="240.3" text-anchor="middle" class="tk">5</text>
<text x="86.6" y="240.3" text-anchor="middle" class="tk">10</text>
<text x="120.6" y="240.3" text-anchor="middle" class="tk">15</text>
<text x="154.6" y="240.3" text-anchor="middle" class="tk">20</text>
<text x="188.6" y="240.3" text-anchor="middle" class="tk">25</text>
<text x="222.6" y="240.3" text-anchor="middle" class="tk">30</text>
<text x="256.6" y="240.3" text-anchor="middle" class="tk">35</text>
<text x="290.6" y="240.3" text-anchor="middle" class="tk">40</text>
<text x="324.6" y="240.3" text-anchor="middle" class="tk">45</text>
<text x="414.2" y="240.8" text-anchor="middle" class="tk">5</text>
<text x="447.25" y="240.8" text-anchor="middle" class="tk">10</text>
<text x="480.3" y="240.8" text-anchor="middle" class="tk">15</text>
<text x="513.35" y="240.8" text-anchor="middle" class="tk">20</text>
<text x="546.4" y="240.8" text-anchor="middle" class="tk">25</text>
<text x="579.45" y="240.8" text-anchor="middle" class="tk">30</text>
<text x="612.5" y="240.8" text-anchor="middle" class="tk">35</text>
<text x="645.55" y="240.8" text-anchor="middle" class="tk">40</text>
<text x="678.6" y="240.8" text-anchor="middle" class="tk">45</text>
<text x="230.3" y="531.8" text-anchor="middle" class="tk">5</text>
<text x="264.2" y="531.8" text-anchor="middle" class="tk">10</text>
<text x="298.1" y="531.8" text-anchor="middle" class="tk">15</text>
<text x="332" y="531.8" text-anchor="middle" class="tk">20</text>
<text x="365.9" y="531.8" text-anchor="middle" class="tk">25</text>
<text x="399.8" y="531.8" text-anchor="middle" class="tk">30</text>
<text x="433.7" y="531.8" text-anchor="middle" class="tk">35</text>
<text x="467.6" y="531.8" text-anchor="middle" class="tk">40</text>
<text x="501.5" y="531.8" text-anchor="middle" class="tk">45</text>
<text x="41.7" y="8.7" textLength="5.6" lengthAdjust="spacingAndGlyphs" class="sup">0</text><text x="42.06" y="13.7" text-anchor="end" class="tk">10</text>
<text x="42.3" y="48.25" textLength="5" lengthAdjust="spacingAndGlyphs" class="sup">1</text><rect x="33.9" y="45" width="7" height="0.7" fill="#222"/><text x="33.06" y="53.25" text-anchor="end" class="tk">10</text>
<text x="41.7" y="87.8" textLength="5.6" lengthAdjust="spacingAndGlyphs" class="sup">2</text><rect x="33.95" y="84.55" width="7" height="0.7" fill="#222"/><text x="33.11" y="92.8" text-anchor="end" class="tk">10</text>
<text x="41.7" y="127.35" textLength="5.6" lengthAdjust="spacingAndGlyphs" class="sup">3</text><rect x="34" y="124.1" width="7" height="0.7" fill="#222"/><text x="33.16" y="132.35" text-anchor="end" class="tk">10</text>
<text x="41.7" y="166.9" textLength="5.6" lengthAdjust="spacingAndGlyphs" class="sup">4</text><rect x="33.7" y="163.65" width="7" height="0.7" fill="#222"/><text x="32.86" y="171.9" text-anchor="end" class="tk">10</text>
<text x="41.7" y="206.45" textLength="5.6" lengthAdjust="spacingAndGlyphs" class="sup">5</text><rect x="34.1" y="203.2" width="7" height="0.7" fill="#222"/><text x="33.26" y="211.45" text-anchor="end" class="tk">10</text>
<text x="395.4" y="40.6" textLength="13.2" lengthAdjust="spacingAndGlyphs" class="sup">0.5</text><rect x="388.1" y="37.35" width="6.5" height="0.7" fill="#222"/><text x="387.26" y="46.4" text-anchor="end" class="tk">10</text>
<text x="403.6" y="104.6" textLength="5" lengthAdjust="spacingAndGlyphs" class="sup">1</text><rect x="395.7" y="101.35" width="6.5" height="0.7" fill="#222"/><text x="394.86" y="110.4" text-anchor="end" class="tk">10</text>
<text x="395.4" y="168.6" textLength="13.2" lengthAdjust="spacingAndGlyphs" class="sup">1.5</text><rect x="387.5" y="165.35" width="6.5" height="0.7" fill="#222"/><text x="386.66" y="174.4" text-anchor="end" class="tk">10</text>
<text x="219" y="312.4" textLength="5.6" lengthAdjust="spacingAndGlyphs" class="sup">0</text><text x="219.36" y="317.9" text-anchor="end" class="tk">10</text>
<text x="219.6" y="362.6" textLength="5" lengthAdjust="spacingAndGlyphs" class="sup">1</text><rect x="211.2" y="359.35" width="7" height="0.7" fill="#222"/><text x="210.36" y="368.1" text-anchor="end" class="tk">10</text>
<text x="219" y="412.8" textLength="5.6" lengthAdjust="spacingAndGlyphs" class="sup">2</text><rect x="211.25" y="409.55" width="7" height="0.7" fill="#222"/><text x="210.41" y="418.3" text-anchor="end" class="tk">10</text>
<text x="219" y="463" textLength="5.6" lengthAdjust="spacingAndGlyphs" class="sup">3</text><rect x="211.3" y="459.75" width="7" height="0.7" fill="#222"/><text x="210.46" y="468.5" text-anchor="end" class="tk">10</text>
<text x="219" y="513.2" textLength="5.6" lengthAdjust="spacingAndGlyphs" class="sup">4</text><rect x="211" y="509.95" width="7" height="0.7" fill="#222"/><text x="210.16" y="518.7" text-anchor="end" class="tk">10</text>
<text x="137.6" y="259.5" textLength="101.5" lengthAdjust="spacing" class="al">Frame Error (%)</text>
<text x="496.4" y="259.8" textLength="100" lengthAdjust="spacing" class="al">Frame Error (%)</text>
<text x="314.6" y="551.8" textLength="102.1" lengthAdjust="spacing" class="al">Frame Error (%)</text>
<text transform="translate(9.7,112.6) rotate(-90)" text-anchor="middle" textLength="28.6" lengthAdjust="spacingAndGlyphs" class="al">BER</text>
<text transform="translate(363.7,116.8) rotate(-90)" text-anchor="middle" textLength="70.6" lengthAdjust="spacingAndGlyphs" class="al">BPSK BER</text>
<text transform="translate(187.0,404.3) rotate(-90)" text-anchor="middle" textLength="28.6" lengthAdjust="spacingAndGlyphs" class="al">FER</text>
<text x="165.6" y="286.6" text-anchor="middle" class="cap">(a)</text>
<text x="519.9" y="286.6" text-anchor="middle" class="cap">(b)</text>
<text x="342.7" y="578.4" text-anchor="middle" class="cap">(c)</text>
</svg></body></html>
